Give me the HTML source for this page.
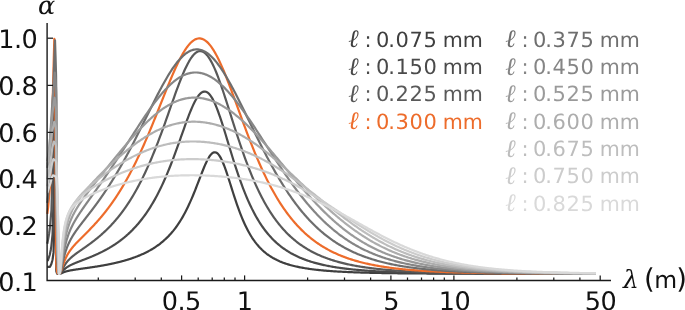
<!DOCTYPE html>
<html><head><meta charset="utf-8"><title>plot</title>
<style>
html,body{margin:0;padding:0;background:#fff;}
body{width:685px;height:310px;position:relative;overflow:hidden;text-rendering:geometricPrecision;font-family:"DejaVu Sans","Liberation Sans",sans-serif;color:#111;}
.yl{position:absolute;left:-22.75px;width:60px;height:40px;line-height:40px;text-align:right;font-size:25.5px;white-space:nowrap;letter-spacing:-0.5px;}
.xl{position:absolute;top:281.7px;width:80px;height:40px;line-height:40px;text-align:center;font-size:25.5px;white-space:nowrap;letter-spacing:-0.5px;}
.al{position:absolute;font-family:"DejaVu Serif","Liberation Serif",serif;font-style:italic;font-size:25.5px;line-height:40px;}
.lam{position:absolute;font-family:"DejaVu Serif","Liberation Serif",serif;font-style:italic;font-size:25px;line-height:40px;}
.unit .par{font-size:27.5px;}
.unit{position:absolute;font-size:23.5px;line-height:40px;white-space:nowrap;}
.lg{position:absolute;height:40px;line-height:40px;font-size:21px;white-space:nowrap;}
.lg span{position:absolute;top:0;}
.lg .dg{letter-spacing:0.6px;}
.lg .dg .pt{position:static;margin-left:-1.66px;}
.lg .ell{font-family:"Liberation Serif","DejaVu Serif",serif;font-style:italic;font-size:25px;}
.lg .mm{font-size:20.6px;}
</style></head><body>
<svg width="685" height="310" viewBox="0 0 685 310" style="position:absolute;left:0;top:0">
<g fill="none" stroke-width="2.2" stroke-linejoin="round" stroke-linecap="butt">
<path stroke="#3f3f3f" d="M47.30,266.88 L50.00,266.88 L51.35,264.07 L52.20,261.07 L52.61,259.26 L53.51,252.64 L54.59,218.90 L55.40,153.86 L55.67,177.22 L55.94,198.21 L56.07,218.90 L56.16,246.07 L56.25,258.93 L56.43,269.28 L56.57,271.75 L56.75,272.64 L57.02,273.14 L57.24,273.61 L57.65,273.75 L58.00,273.75 L58.40,273.75 L58.70,273.75 L58.90,273.80 L59.15,273.80 L59.40,273.80 L59.65,273.78 L59.90,273.75 L60.15,273.70 L60.40,273.64 L60.65,273.56 L60.90,273.47 L61.15,273.37 L61.40,273.26 L61.65,273.15 L61.90,273.03 L62.15,272.92 L62.40,272.81 L62.65,272.69 L62.90,272.58 L63.15,272.48 L63.40,272.37 L63.65,272.27 L63.90,272.17 L64.15,272.08 L64.40,271.99 L64.65,271.90 L64.90,271.81 L65.15,271.73 L65.40,271.65 L65.65,271.57 L65.90,271.50 L66.15,271.42 L66.40,271.35 L66.65,271.29 L66.90,271.22 L67.15,271.15 L67.40,271.09 L67.65,271.03 L67.90,270.97 L68.15,270.91 L68.40,270.86 L68.65,270.80 L68.90,270.75 L69.15,270.69 L69.40,270.64 L69.65,270.59 L69.90,270.54 L70.15,270.49 L70.40,270.44 L70.65,270.39 L70.90,270.35 L71.15,270.30 L71.40,270.26 L71.65,270.21 L71.90,270.17 L72.15,270.12 L72.40,270.08 L72.65,270.04 L72.90,270.00 L73.15,269.96 L73.40,269.92 L73.65,269.88 L73.90,269.84 L74.15,269.80 L74.40,269.76 L74.65,269.72 L74.90,269.68 L75.15,269.64 L75.40,269.60 L75.65,269.56 L75.90,269.53 L76.15,269.49 L76.40,269.45 L76.65,269.42 L76.90,269.38 L77.15,269.34 L77.40,269.31 L77.65,269.27 L77.90,269.23 L78.15,269.20 L78.40,269.16 L78.65,269.13 L78.90,269.09 L79.15,269.05 L79.40,269.02 L79.65,268.98 L79.90,268.95 L80.15,268.91 L80.40,268.88 L80.65,268.84 L80.90,268.81 L81.15,268.77 L81.40,268.74 L81.65,268.70 L81.90,268.67 L82.15,268.63 L82.40,268.60 L82.65,268.56 L82.90,268.53 L83.15,268.49 L83.40,268.46 L83.65,268.42 L83.90,268.39 L84.15,268.35 L84.40,268.32 L84.65,268.28 L84.90,268.25 L85.15,268.21 L85.40,268.18 L85.65,268.14 L85.90,268.11 L86.15,268.07 L86.40,268.04 L86.65,268.00 L86.90,267.97 L87.15,267.93 L87.40,267.90 L87.65,267.86 L87.90,267.82 L88.15,267.79 L88.40,267.75 L88.65,267.72 L88.90,267.68 L89.15,267.64 L89.40,267.61 L89.65,267.57 L89.90,267.54 L90.15,267.50 L90.40,267.46 L90.65,267.43 L90.90,267.39 L91.15,267.35 L91.40,267.31 L91.65,267.28 L91.90,267.24 L92.15,267.20 L92.40,267.16 L92.65,267.13 L92.90,267.09 L93.15,267.05 L93.40,267.01 L93.65,266.98 L93.90,266.94 L94.15,266.90 L94.40,266.86 L94.65,266.82 L94.90,266.78 L95.15,266.74 L95.40,266.70 L95.65,266.66 L95.90,266.62 L96.15,266.59 L96.40,266.55 L96.65,266.51 L96.90,266.47 L97.15,266.43 L97.40,266.38 L97.65,266.34 L97.90,266.30 L98.15,266.26 L98.40,266.22 L98.65,266.18 L98.90,266.14 L99.15,266.10 L99.40,266.05 L99.65,266.01 L99.90,265.97 L100.15,265.93 L100.40,265.89 L100.65,265.84 L100.90,265.80 L101.15,265.76 L101.40,265.71 L101.65,265.67 L101.90,265.63 L102.15,265.58 L102.40,265.54 L102.65,265.49 L102.90,265.45 L103.15,265.40 L103.40,265.36 L103.65,265.31 L103.90,265.27 L104.15,265.22 L104.40,265.18 L104.65,265.13 L104.90,265.09 L105.15,265.04 L105.40,264.99 L105.65,264.95 L105.90,264.90 L106.15,264.85 L106.40,264.80 L106.65,264.76 L106.90,264.71 L107.15,264.66 L107.40,264.61 L107.65,264.56 L107.90,264.51 L108.15,264.46 L108.40,264.41 L108.65,264.36 L108.90,264.31 L109.15,264.26 L109.40,264.21 L109.65,264.16 L109.90,264.11 L110.15,264.06 L110.40,264.01 L110.65,263.96 L110.90,263.90 L111.15,263.85 L111.40,263.80 L111.65,263.75 L111.90,263.69 L112.15,263.64 L112.40,263.58 L112.65,263.53 L112.90,263.48 L113.15,263.42 L113.40,263.37 L113.65,263.31 L113.90,263.26 L114.15,263.20 L114.40,263.14 L114.65,263.09 L114.90,263.03 L115.15,262.97 L115.40,262.92 L115.65,262.86 L115.90,262.80 L116.15,262.74 L116.40,262.68 L116.65,262.62 L116.90,262.56 L117.15,262.50 L117.40,262.44 L117.65,262.38 L117.90,262.32 L118.15,262.26 L118.40,262.20 L118.65,262.14 L118.90,262.08 L119.15,262.01 L119.40,261.95 L119.65,261.89 L119.90,261.82 L120.15,261.76 L120.40,261.70 L120.65,261.63 L120.90,261.57 L121.15,261.50 L121.40,261.44 L121.65,261.37 L121.90,261.30 L122.15,261.24 L122.40,261.17 L122.65,261.10 L122.90,261.03 L123.15,260.96 L123.40,260.90 L123.65,260.83 L123.90,260.76 L124.15,260.69 L124.40,260.62 L124.65,260.54 L124.90,260.47 L125.15,260.40 L125.40,260.33 L125.65,260.26 L125.90,260.18 L126.15,260.11 L126.40,260.04 L126.65,259.96 L126.90,259.89 L127.15,259.81 L127.40,259.74 L127.65,259.66 L127.90,259.58 L128.15,259.50 L128.40,259.43 L128.65,259.35 L128.90,259.27 L129.15,259.19 L129.40,259.11 L129.65,259.03 L129.90,258.95 L130.00,258.92 L131.00,258.59 L132.00,258.25 L133.00,257.91 L134.00,257.55 L135.00,257.19 L136.00,256.82 L137.00,256.43 L138.00,256.04 L139.00,255.63 L140.00,255.22 L141.00,254.79 L142.00,254.35 L143.00,253.90 L144.00,253.44 L145.00,252.96 L146.00,252.47 L147.00,251.96 L148.00,251.44 L149.00,250.90 L150.00,250.35 L151.00,249.78 L152.00,249.19 L153.00,248.58 L154.00,247.96 L155.00,247.31 L156.00,246.65 L157.00,245.96 L158.00,245.25 L159.00,244.52 L160.00,243.76 L161.00,242.97 L162.00,242.16 L163.00,241.32 L164.00,240.45 L165.00,239.55 L166.00,238.62 L167.00,237.66 L168.00,236.66 L169.00,235.62 L170.00,234.55 L171.00,233.44 L172.00,232.28 L173.00,231.09 L174.00,229.84 L175.00,228.55 L176.00,227.22 L177.00,225.83 L178.00,224.39 L179.00,222.89 L180.00,221.34 L181.00,219.73 L182.00,218.06 L183.00,216.33 L184.00,214.54 L185.00,212.68 L186.00,210.76 L187.00,208.77 L188.00,206.71 L189.00,204.59 L190.00,202.40 L191.00,200.15 L192.00,197.83 L193.00,195.46 L194.00,193.02 L195.00,190.54 L196.00,188.02 L197.00,185.45 L198.00,182.87 L199.00,180.26 L200.00,177.65 L201.00,175.06 L202.00,172.50 L203.00,169.98 L204.00,167.54 L205.00,165.19 L206.00,162.95 L207.00,160.86 L208.00,158.94 L209.00,157.21 L210.00,155.70 L211.00,154.44 L212.00,153.44 L213.00,152.73 L214.00,152.33 L215.00,152.24 L216.00,152.47 L217.00,153.03 L218.00,153.91 L219.00,155.11 L220.00,156.61 L221.00,158.40 L222.00,160.44 L223.00,162.73 L224.00,165.23 L225.00,167.90 L226.00,170.74 L227.00,173.69 L228.00,176.74 L229.00,179.86 L230.00,183.02 L231.00,186.20 L232.00,189.37 L233.00,192.53 L234.00,195.64 L235.00,198.70 L236.00,201.70 L237.00,204.62 L238.00,207.46 L239.00,210.21 L240.00,212.87 L241.00,215.44 L242.00,217.91 L243.00,220.28 L244.00,222.56 L245.00,224.74 L246.00,226.83 L247.00,228.82 L248.00,230.73 L249.00,232.55 L250.00,234.29 L251.00,235.95 L252.00,237.53 L253.00,239.03 L254.00,240.47 L255.00,241.84 L256.00,243.14 L257.00,244.38 L258.00,245.56 L259.00,246.69 L260.00,247.77 L261.00,248.79 L262.00,249.77 L263.00,250.70 L264.00,251.59 L265.00,252.44 L266.00,253.24 L267.00,254.02 L268.00,254.75 L269.00,255.46 L270.00,256.13 L271.00,256.77 L272.00,257.39 L273.00,257.98 L274.00,258.54 L275.00,259.08 L276.00,259.59 L277.00,260.09 L278.00,260.56 L279.00,261.01 L280.00,261.45 L281.00,261.86 L282.00,262.26 L283.00,262.65 L284.00,263.02 L285.00,263.37 L286.00,263.71 L287.00,264.04 L288.00,264.35 L289.00,264.65 L290.00,264.94 L291.00,265.22 L292.00,265.49 L293.00,265.75 L294.00,266.00 L295.00,266.24 L296.00,266.47 L297.00,266.69 L298.00,266.90 L299.00,267.11 L300.00,267.31 L301.00,267.50 L302.00,267.69 L303.00,267.87 L304.00,268.04 L305.00,268.21 L306.00,268.37 L307.00,268.53 L308.00,268.68 L309.00,268.83 L310.00,268.97 L311.00,269.10 L312.00,269.24 L313.00,269.36 L314.00,269.49 L315.00,269.61 L316.00,269.72 L317.00,269.83 L318.00,269.94 L319.00,270.05 L320.00,270.15 L321.00,270.25 L322.00,270.34 L323.00,270.44 L324.00,270.53 L325.00,270.62 L326.00,270.70 L327.00,270.78 L328.00,270.86 L329.00,270.94 L330.00,271.01 L331.00,271.09 L332.00,271.16 L333.00,271.23 L334.00,271.29 L335.00,271.36 L336.00,271.42 L337.00,271.48 L338.00,271.54 L339.00,271.60 L340.00,271.65 L341.00,271.71 L342.00,271.76 L343.00,271.81 L344.00,271.86 L345.00,271.91 L346.00,271.96 L347.00,272.01 L348.00,272.05 L349.00,272.09 L350.00,272.14 L351.00,272.18 L352.00,272.22 L353.00,272.26 L354.00,272.29 L355.00,272.33 L356.00,272.37 L357.00,272.40 L358.00,272.44 L359.00,272.47 L360.00,272.50 L361.00,272.53 L362.00,272.56 L363.00,272.59 L364.00,272.62 L365.00,272.65 L366.00,272.68 L367.00,272.71 L368.00,272.73 L369.00,272.76 L370.00,272.78 L371.00,272.81 L372.00,272.83 L373.00,272.85 L374.00,272.88 L375.00,272.90 L376.00,272.92 L377.00,272.94 L378.00,272.96 L379.00,272.98 L380.00,273.00 L381.00,273.02 L382.00,273.04 L383.00,273.05 L384.00,273.07 L385.00,273.09 L386.00,273.11 L387.00,273.12 L388.00,273.14 L389.00,273.15 L390.00,273.17 L391.00,273.18 L392.00,273.20 L393.00,273.21 L394.00,273.22 L395.00,273.24 L396.00,273.25 L397.00,273.26 L398.00,273.28 L399.00,273.29 L400.00,273.30 L401.00,273.31 L402.00,273.32 L403.00,273.33 L404.00,273.34 L405.00,273.35 L406.00,273.36 L407.00,273.37 L408.00,273.38 L409.00,273.39 L410.00,273.40 L411.00,273.41 L412.00,273.42 L413.00,273.43 L414.00,273.44 L415.00,273.45 L416.00,273.45 L417.00,273.46 L418.00,273.47 L419.00,273.48 L420.00,273.48 L421.00,273.49 L422.00,273.50 L423.00,273.51 L424.00,273.51 L425.00,273.52 L426.00,273.52 L427.00,273.53 L428.00,273.54 L429.00,273.54 L430.00,273.55 L431.00,273.55 L432.00,273.56 L433.00,273.57 L434.00,273.57 L435.00,273.58 L436.00,273.58 L437.00,273.59 L438.00,273.59 L439.00,273.59 L440.00,273.60 L441.00,273.60 L442.00,273.61 L443.00,273.61 L444.00,273.62 L445.00,273.62 L446.00,273.62 L447.00,273.63 L448.00,273.63 L449.00,273.64 L450.00,273.64 L451.00,273.64 L452.00,273.65 L453.00,273.65 L454.00,273.65 L455.00,273.66 L456.00,273.66 L457.00,273.66 L458.00,273.67 L459.00,273.67 L460.00,273.67 L461.00,273.67 L462.00,273.68 L463.00,273.68 L464.00,273.68 L465.00,273.69 L466.00,273.69 L467.00,273.69 L468.00,273.69 L469.00,273.70 L470.00,273.70 L471.00,273.70 L472.00,273.70 L473.00,273.70 L474.00,273.71 L475.00,273.71 L476.00,273.71 L477.00,273.71 L478.00,273.71 L479.00,273.72 L480.00,273.72 L481.00,273.72 L482.00,273.72 L483.00,273.72 L484.00,273.72 L485.00,273.73 L486.00,273.73 L487.00,273.73 L488.00,273.73 L489.00,273.73 L490.00,273.73 L491.00,273.74 L492.00,273.74 L493.00,273.74 L494.00,273.74 L495.00,273.74 L496.00,273.74 L497.00,273.74 L498.00,273.74 L499.00,273.75 L500.00,273.75 L501.00,273.75 L502.00,273.75 L503.00,273.75 L504.00,273.75 L505.00,273.75 L506.00,273.75 L507.00,273.75 L508.00,273.76 L509.00,273.76 L510.00,273.76 L511.00,273.76 L512.00,273.76 L513.00,273.76 L514.00,273.76 L515.00,273.76 L516.00,273.76 L517.00,273.76 L518.00,273.76 L519.00,273.77 L520.00,273.77 L521.00,273.77 L522.00,273.77 L523.00,273.77 L524.00,273.77 L525.00,273.77 L526.00,273.77 L527.00,273.77 L528.00,273.77 L529.00,273.77 L530.00,273.77 L531.00,273.77 L532.00,273.77 L533.00,273.77 L534.00,273.78 L535.00,273.78 L536.00,273.78 L537.00,273.78 L538.00,273.78 L539.00,273.78 L540.00,273.78 L541.00,273.78 L542.00,273.78 L543.00,273.78 L544.00,273.78 L545.00,273.78 L546.00,273.78 L547.00,273.78 L548.00,273.78 L549.00,273.78 L550.00,273.78 L551.00,273.78 L552.00,273.78 L553.00,273.78 L554.00,273.78 L555.00,273.78 L556.00,273.78 L557.00,273.78 L558.00,273.79 L559.00,273.79 L560.00,273.79 L561.00,273.79 L562.00,273.79 L563.00,273.79 L564.00,273.79 L565.00,273.79 L566.00,273.79 L567.00,273.79 L568.00,273.79 L569.00,273.79 L570.00,273.79 L571.00,273.79 L572.00,273.79 L573.00,273.79 L574.00,273.79 L575.00,273.79 L576.00,273.79 L577.00,273.79 L578.00,273.79 L579.00,273.79 L580.00,273.79 L581.00,273.79 L582.00,273.79 L583.00,273.79 L584.00,273.79 L585.00,273.79 L586.00,273.79 L587.00,273.79 L588.00,273.79 L589.00,273.79 L590.00,273.79 L591.00,273.79 L592.00,273.79 L593.00,273.79 L594.00,273.79 L595.00,273.79 L596.00,273.79"/>
<path stroke="#4a4a4a" d="M47.30,260.33 L47.90,260.33 L49.70,255.01 L50.84,249.41 L51.38,246.06 L52.58,234.11 L54.02,178.83 L55.10,92.97 L55.43,121.37 L55.76,148.99 L55.93,178.83 L56.04,222.62 L56.15,245.46 L56.37,264.94 L56.53,269.75 L56.75,271.50 L57.08,272.50 L57.36,273.43 L57.85,273.71 L58.00,273.71 L58.40,273.71 L58.70,273.71 L58.90,273.80 L59.15,273.80 L59.40,273.79 L59.65,273.76 L59.90,273.69 L60.15,273.57 L60.40,273.42 L60.65,273.23 L60.90,273.01 L61.15,272.77 L61.40,272.51 L61.65,272.23 L61.90,271.95 L62.15,271.67 L62.40,271.38 L62.65,271.10 L62.90,270.83 L63.15,270.56 L63.40,270.29 L63.65,270.03 L63.90,269.78 L64.15,269.54 L64.40,269.30 L64.65,269.08 L64.90,268.85 L65.15,268.64 L65.40,268.43 L65.65,268.23 L65.90,268.03 L66.15,267.84 L66.40,267.66 L66.65,267.48 L66.90,267.30 L67.15,267.13 L67.40,266.97 L67.65,266.81 L67.90,266.65 L68.15,266.49 L68.40,266.34 L68.65,266.20 L68.90,266.05 L69.15,265.91 L69.40,265.77 L69.65,265.64 L69.90,265.50 L70.15,265.37 L70.40,265.24 L70.65,265.12 L70.90,264.99 L71.15,264.87 L71.40,264.75 L71.65,264.63 L71.90,264.51 L72.15,264.39 L72.40,264.28 L72.65,264.17 L72.90,264.05 L73.15,263.94 L73.40,263.83 L73.65,263.72 L73.90,263.61 L74.15,263.51 L74.40,263.40 L74.65,263.29 L74.90,263.19 L75.15,263.09 L75.40,262.98 L75.65,262.88 L75.90,262.78 L76.15,262.68 L76.40,262.57 L76.65,262.47 L76.90,262.37 L77.15,262.27 L77.40,262.18 L77.65,262.08 L77.90,261.98 L78.15,261.88 L78.40,261.78 L78.65,261.68 L78.90,261.59 L79.15,261.49 L79.40,261.39 L79.65,261.30 L79.90,261.20 L80.15,261.10 L80.40,261.01 L80.65,260.91 L80.90,260.81 L81.15,260.72 L81.40,260.62 L81.65,260.52 L81.90,260.43 L82.15,260.33 L82.40,260.24 L82.65,260.14 L82.90,260.04 L83.15,259.95 L83.40,259.85 L83.65,259.75 L83.90,259.66 L84.15,259.56 L84.40,259.46 L84.65,259.37 L84.90,259.27 L85.15,259.17 L85.40,259.07 L85.65,258.98 L85.90,258.88 L86.15,258.78 L86.40,258.68 L86.65,258.58 L86.90,258.49 L87.15,258.39 L87.40,258.29 L87.65,258.19 L87.90,258.09 L88.15,257.99 L88.40,257.89 L88.65,257.79 L88.90,257.69 L89.15,257.59 L89.40,257.48 L89.65,257.38 L89.90,257.28 L90.15,257.18 L90.40,257.08 L90.65,256.97 L90.90,256.87 L91.15,256.77 L91.40,256.66 L91.65,256.56 L91.90,256.45 L92.15,256.35 L92.40,256.24 L92.65,256.14 L92.90,256.03 L93.15,255.92 L93.40,255.82 L93.65,255.71 L93.90,255.60 L94.15,255.49 L94.40,255.38 L94.65,255.27 L94.90,255.16 L95.15,255.05 L95.40,254.94 L95.65,254.83 L95.90,254.72 L96.15,254.61 L96.40,254.49 L96.65,254.38 L96.90,254.27 L97.15,254.15 L97.40,254.04 L97.65,253.92 L97.90,253.81 L98.15,253.69 L98.40,253.58 L98.65,253.46 L98.90,253.34 L99.15,253.22 L99.40,253.10 L99.65,252.98 L99.90,252.86 L100.15,252.74 L100.40,252.62 L100.65,252.50 L100.90,252.38 L101.15,252.25 L101.40,252.13 L101.65,252.01 L101.90,251.88 L102.15,251.76 L102.40,251.63 L102.65,251.50 L102.90,251.38 L103.15,251.25 L103.40,251.12 L103.65,250.99 L103.90,250.86 L104.15,250.73 L104.40,250.60 L104.65,250.46 L104.90,250.33 L105.15,250.20 L105.40,250.06 L105.65,249.93 L105.90,249.79 L106.15,249.66 L106.40,249.52 L106.65,249.38 L106.90,249.25 L107.15,249.11 L107.40,248.97 L107.65,248.83 L107.90,248.68 L108.15,248.54 L108.40,248.40 L108.65,248.26 L108.90,248.11 L109.15,247.97 L109.40,247.82 L109.65,247.67 L109.90,247.52 L110.15,247.38 L110.40,247.23 L110.65,247.08 L110.90,246.93 L111.15,246.77 L111.40,246.62 L111.65,246.47 L111.90,246.31 L112.15,246.16 L112.40,246.00 L112.65,245.85 L112.90,245.69 L113.15,245.53 L113.40,245.37 L113.65,245.21 L113.90,245.05 L114.15,244.88 L114.40,244.72 L114.65,244.56 L114.90,244.39 L115.15,244.23 L115.40,244.06 L115.65,243.89 L115.90,243.72 L116.15,243.55 L116.40,243.38 L116.65,243.21 L116.90,243.04 L117.15,242.86 L117.40,242.69 L117.65,242.51 L117.90,242.33 L118.15,242.15 L118.40,241.98 L118.65,241.80 L118.90,241.61 L119.15,241.43 L119.40,241.25 L119.65,241.06 L119.90,240.88 L120.15,240.69 L120.40,240.50 L120.65,240.31 L120.90,240.12 L121.15,239.93 L121.40,239.74 L121.65,239.55 L121.90,239.35 L122.15,239.16 L122.40,238.96 L122.65,238.76 L122.90,238.56 L123.15,238.36 L123.40,238.16 L123.65,237.96 L123.90,237.75 L124.15,237.55 L124.40,237.34 L124.65,237.13 L124.90,236.92 L125.15,236.71 L125.40,236.50 L125.65,236.29 L125.90,236.07 L126.15,235.86 L126.40,235.64 L126.65,235.42 L126.90,235.20 L127.15,234.98 L127.40,234.76 L127.65,234.53 L127.90,234.31 L128.15,234.08 L128.40,233.85 L128.65,233.62 L128.90,233.39 L129.15,233.16 L129.40,232.93 L129.65,232.69 L129.90,232.45 L130.00,232.36 L131.00,231.40 L132.00,230.41 L133.00,229.39 L134.00,228.35 L135.00,227.29 L136.00,226.19 L137.00,225.07 L138.00,223.92 L139.00,222.74 L140.00,221.53 L141.00,220.29 L142.00,219.01 L143.00,217.70 L144.00,216.36 L145.00,214.99 L146.00,213.57 L147.00,212.12 L148.00,210.64 L149.00,209.11 L150.00,207.54 L151.00,205.94 L152.00,204.29 L153.00,202.60 L154.00,200.87 L155.00,199.09 L156.00,197.27 L157.00,195.40 L158.00,193.49 L159.00,191.53 L160.00,189.52 L161.00,187.46 L162.00,185.35 L163.00,183.20 L164.00,181.00 L165.00,178.75 L166.00,176.44 L167.00,174.10 L168.00,171.70 L169.00,169.25 L170.00,166.76 L171.00,164.23 L172.00,161.65 L173.00,159.03 L174.00,156.37 L175.00,153.67 L176.00,150.95 L177.00,148.19 L178.00,145.41 L179.00,142.61 L180.00,139.79 L181.00,136.96 L182.00,134.14 L183.00,131.31 L184.00,128.51 L185.00,125.72 L186.00,122.96 L187.00,120.24 L188.00,117.58 L189.00,114.97 L190.00,112.44 L191.00,109.99 L192.00,107.65 L193.00,105.41 L194.00,103.29 L195.00,101.32 L196.00,99.49 L197.00,97.82 L198.00,96.32 L199.00,95.01 L200.00,93.90 L201.00,92.99 L202.00,92.29 L203.00,91.81 L204.00,91.56 L205.00,91.54 L206.00,91.76 L207.00,92.21 L208.00,92.89 L209.00,93.80 L210.00,94.94 L211.00,96.31 L212.00,97.88 L213.00,99.66 L214.00,101.64 L215.00,103.80 L216.00,106.13 L217.00,108.62 L218.00,111.25 L219.00,114.01 L220.00,116.89 L221.00,119.87 L222.00,122.94 L223.00,126.08 L224.00,129.27 L225.00,132.52 L226.00,135.80 L227.00,139.10 L228.00,142.40 L229.00,145.71 L230.00,149.01 L231.00,152.30 L232.00,155.55 L233.00,158.77 L234.00,161.96 L235.00,165.09 L236.00,168.18 L237.00,171.21 L238.00,174.19 L239.00,177.10 L240.00,179.95 L241.00,182.73 L242.00,185.45 L243.00,188.10 L244.00,190.68 L245.00,193.19 L246.00,195.64 L247.00,198.01 L248.00,200.32 L249.00,202.56 L250.00,204.73 L251.00,206.84 L252.00,208.88 L253.00,210.86 L254.00,212.78 L255.00,214.63 L256.00,216.43 L257.00,218.17 L258.00,219.86 L259.00,221.49 L260.00,223.07 L261.00,224.59 L262.00,226.07 L263.00,227.50 L264.00,228.88 L265.00,230.22 L266.00,231.51 L267.00,232.76 L268.00,233.97 L269.00,235.14 L270.00,236.27 L271.00,237.36 L272.00,238.42 L273.00,239.45 L274.00,240.44 L275.00,241.40 L276.00,242.33 L277.00,243.22 L278.00,244.09 L279.00,244.94 L280.00,245.75 L281.00,246.54 L282.00,247.30 L283.00,248.04 L284.00,248.76 L285.00,249.45 L286.00,250.12 L287.00,250.78 L288.00,251.41 L289.00,252.02 L290.00,252.61 L291.00,253.19 L292.00,253.74 L293.00,254.28 L294.00,254.81 L295.00,255.31 L296.00,255.81 L297.00,256.29 L298.00,256.75 L299.00,257.20 L300.00,257.64 L301.00,258.06 L302.00,258.47 L303.00,258.87 L304.00,259.26 L305.00,259.64 L306.00,260.00 L307.00,260.36 L308.00,260.70 L309.00,261.04 L310.00,261.36 L311.00,261.68 L312.00,261.99 L313.00,262.29 L314.00,262.58 L315.00,262.86 L316.00,263.14 L317.00,263.40 L318.00,263.66 L319.00,263.92 L320.00,264.16 L321.00,264.40 L322.00,264.63 L323.00,264.86 L324.00,265.08 L325.00,265.30 L326.00,265.50 L327.00,265.71 L328.00,265.90 L329.00,266.10 L330.00,266.28 L331.00,266.47 L332.00,266.65 L333.00,266.82 L334.00,266.99 L335.00,267.15 L336.00,267.31 L337.00,267.47 L338.00,267.62 L339.00,267.77 L340.00,267.91 L341.00,268.05 L342.00,268.19 L343.00,268.32 L344.00,268.45 L345.00,268.58 L346.00,268.70 L347.00,268.82 L348.00,268.94 L349.00,269.05 L350.00,269.16 L351.00,269.27 L352.00,269.38 L353.00,269.48 L354.00,269.58 L355.00,269.68 L356.00,269.78 L357.00,269.87 L358.00,269.96 L359.00,270.05 L360.00,270.14 L361.00,270.22 L362.00,270.31 L363.00,270.39 L364.00,270.47 L365.00,270.54 L366.00,270.62 L367.00,270.69 L368.00,270.76 L369.00,270.83 L370.00,270.90 L371.00,270.97 L372.00,271.03 L373.00,271.10 L374.00,271.16 L375.00,271.22 L376.00,271.28 L377.00,271.33 L378.00,271.39 L379.00,271.44 L380.00,271.50 L381.00,271.55 L382.00,271.60 L383.00,271.65 L384.00,271.70 L385.00,271.75 L386.00,271.79 L387.00,271.84 L388.00,271.88 L389.00,271.93 L390.00,271.97 L391.00,272.01 L392.00,272.05 L393.00,272.09 L394.00,272.13 L395.00,272.17 L396.00,272.20 L397.00,272.24 L398.00,272.27 L399.00,272.31 L400.00,272.34 L401.00,272.37 L402.00,272.41 L403.00,272.44 L404.00,272.47 L405.00,272.50 L406.00,272.53 L407.00,272.55 L408.00,272.58 L409.00,272.61 L410.00,272.64 L411.00,272.66 L412.00,272.69 L413.00,272.71 L414.00,272.74 L415.00,272.76 L416.00,272.78 L417.00,272.80 L418.00,272.83 L419.00,272.85 L420.00,272.87 L421.00,272.89 L422.00,272.91 L423.00,272.93 L424.00,272.95 L425.00,272.97 L426.00,272.99 L427.00,273.00 L428.00,273.02 L429.00,273.04 L430.00,273.06 L431.00,273.07 L432.00,273.09 L433.00,273.10 L434.00,273.12 L435.00,273.13 L436.00,273.15 L437.00,273.16 L438.00,273.18 L439.00,273.19 L440.00,273.20 L441.00,273.22 L442.00,273.23 L443.00,273.24 L444.00,273.25 L445.00,273.27 L446.00,273.28 L447.00,273.29 L448.00,273.30 L449.00,273.31 L450.00,273.32 L451.00,273.33 L452.00,273.34 L453.00,273.35 L454.00,273.36 L455.00,273.37 L456.00,273.38 L457.00,273.39 L458.00,273.40 L459.00,273.41 L460.00,273.42 L461.00,273.43 L462.00,273.43 L463.00,273.44 L464.00,273.45 L465.00,273.46 L466.00,273.46 L467.00,273.47 L468.00,273.48 L469.00,273.49 L470.00,273.49 L471.00,273.50 L472.00,273.51 L473.00,273.51 L474.00,273.52 L475.00,273.53 L476.00,273.53 L477.00,273.54 L478.00,273.54 L479.00,273.55 L480.00,273.55 L481.00,273.56 L482.00,273.56 L483.00,273.57 L484.00,273.57 L485.00,273.58 L486.00,273.58 L487.00,273.59 L488.00,273.59 L489.00,273.60 L490.00,273.60 L491.00,273.61 L492.00,273.61 L493.00,273.61 L494.00,273.62 L495.00,273.62 L496.00,273.63 L497.00,273.63 L498.00,273.63 L499.00,273.64 L500.00,273.64 L501.00,273.64 L502.00,273.65 L503.00,273.65 L504.00,273.65 L505.00,273.66 L506.00,273.66 L507.00,273.66 L508.00,273.67 L509.00,273.67 L510.00,273.67 L511.00,273.68 L512.00,273.68 L513.00,273.68 L514.00,273.68 L515.00,273.69 L516.00,273.69 L517.00,273.69 L518.00,273.69 L519.00,273.70 L520.00,273.70 L521.00,273.70 L522.00,273.70 L523.00,273.70 L524.00,273.71 L525.00,273.71 L526.00,273.71 L527.00,273.71 L528.00,273.71 L529.00,273.72 L530.00,273.72 L531.00,273.72 L532.00,273.72 L533.00,273.72 L534.00,273.72 L535.00,273.73 L536.00,273.73 L537.00,273.73 L538.00,273.73 L539.00,273.73 L540.00,273.73 L541.00,273.74 L542.00,273.74 L543.00,273.74 L544.00,273.74 L545.00,273.74 L546.00,273.74 L547.00,273.74 L548.00,273.74 L549.00,273.75 L550.00,273.75 L551.00,273.75 L552.00,273.75 L553.00,273.75 L554.00,273.75 L555.00,273.75 L556.00,273.75 L557.00,273.75 L558.00,273.76 L559.00,273.76 L560.00,273.76 L561.00,273.76 L562.00,273.76 L563.00,273.76 L564.00,273.76 L565.00,273.76 L566.00,273.76 L567.00,273.76 L568.00,273.76 L569.00,273.76 L570.00,273.77 L571.00,273.77 L572.00,273.77 L573.00,273.77 L574.00,273.77 L575.00,273.77 L576.00,273.77 L577.00,273.77 L578.00,273.77 L579.00,273.77 L580.00,273.77 L581.00,273.77 L582.00,273.77 L583.00,273.77 L584.00,273.77 L585.00,273.78 L586.00,273.78 L587.00,273.78 L588.00,273.78 L589.00,273.78 L590.00,273.78 L591.00,273.78 L592.00,273.78 L593.00,273.78 L594.00,273.78 L595.00,273.78 L596.00,273.78"/>
<path stroke="#595959" d="M47.30,243.63 L47.60,242.32 L49.12,233.45 L49.84,228.23 L51.44,210.31 L53.36,138.14 L54.80,52.09 L55.16,77.88 L55.52,105.26 L55.70,138.14 L55.82,193.91 L55.94,227.32 L56.18,258.62 L56.36,266.79 L56.60,269.80 L56.96,271.53 L57.26,273.15 L57.80,273.64 L58.00,273.64 L58.40,273.64 L58.70,273.64 L58.90,273.80 L59.15,273.80 L59.40,273.78 L59.65,273.72 L59.90,273.60 L60.15,273.40 L60.40,273.12 L60.65,272.78 L60.90,272.38 L61.15,271.94 L61.40,271.47 L61.65,270.97 L61.90,270.46 L62.15,269.95 L62.40,269.43 L62.65,268.92 L62.90,268.42 L63.15,267.92 L63.40,267.44 L63.65,266.97 L63.90,266.51 L64.15,266.07 L64.40,265.64 L64.65,265.22 L64.90,264.82 L65.15,264.42 L65.40,264.04 L65.65,263.68 L65.90,263.32 L66.15,262.97 L66.40,262.63 L66.65,262.31 L66.90,261.99 L67.15,261.68 L67.40,261.37 L67.65,261.08 L67.90,260.79 L68.15,260.51 L68.40,260.24 L68.65,259.97 L68.90,259.70 L69.15,259.45 L69.40,259.19 L69.65,258.95 L69.90,258.70 L70.15,258.47 L70.40,258.23 L70.65,258.00 L70.90,257.77 L71.15,257.55 L71.40,257.33 L71.65,257.11 L71.90,256.89 L72.15,256.68 L72.40,256.47 L72.65,256.27 L72.90,256.06 L73.15,255.86 L73.40,255.66 L73.65,255.46 L73.90,255.26 L74.15,255.07 L74.40,254.87 L74.65,254.68 L74.90,254.49 L75.15,254.30 L75.40,254.11 L75.65,253.93 L75.90,253.74 L76.15,253.56 L76.40,253.37 L76.65,253.19 L76.90,253.01 L77.15,252.83 L77.40,252.65 L77.65,252.47 L77.90,252.29 L78.15,252.11 L78.40,251.93 L78.65,251.76 L78.90,251.58 L79.15,251.40 L79.40,251.23 L79.65,251.05 L79.90,250.87 L80.15,250.70 L80.40,250.52 L80.65,250.35 L80.90,250.18 L81.15,250.00 L81.40,249.83 L81.65,249.65 L81.90,249.48 L82.15,249.30 L82.40,249.13 L82.65,248.96 L82.90,248.78 L83.15,248.61 L83.40,248.43 L83.65,248.26 L83.90,248.08 L84.15,247.91 L84.40,247.73 L84.65,247.56 L84.90,247.38 L85.15,247.21 L85.40,247.03 L85.65,246.85 L85.90,246.68 L86.15,246.50 L86.40,246.32 L86.65,246.15 L86.90,245.97 L87.15,245.79 L87.40,245.61 L87.65,245.43 L87.90,245.25 L88.15,245.07 L88.40,244.89 L88.65,244.71 L88.90,244.53 L89.15,244.35 L89.40,244.17 L89.65,243.98 L89.90,243.80 L90.15,243.62 L90.40,243.43 L90.65,243.25 L90.90,243.06 L91.15,242.87 L91.40,242.69 L91.65,242.50 L91.90,242.31 L92.15,242.12 L92.40,241.93 L92.65,241.74 L92.90,241.55 L93.15,241.36 L93.40,241.17 L93.65,240.97 L93.90,240.78 L94.15,240.59 L94.40,240.39 L94.65,240.20 L94.90,240.00 L95.15,239.80 L95.40,239.60 L95.65,239.40 L95.90,239.20 L96.15,239.00 L96.40,238.80 L96.65,238.60 L96.90,238.40 L97.15,238.19 L97.40,237.99 L97.65,237.78 L97.90,237.58 L98.15,237.37 L98.40,237.16 L98.65,236.95 L98.90,236.74 L99.15,236.53 L99.40,236.32 L99.65,236.11 L99.90,235.89 L100.15,235.68 L100.40,235.46 L100.65,235.24 L100.90,235.03 L101.15,234.81 L101.40,234.59 L101.65,234.37 L101.90,234.15 L102.15,233.92 L102.40,233.70 L102.65,233.47 L102.90,233.25 L103.15,233.02 L103.40,232.79 L103.65,232.56 L103.90,232.33 L104.15,232.10 L104.40,231.87 L104.65,231.64 L104.90,231.40 L105.15,231.17 L105.40,230.93 L105.65,230.69 L105.90,230.45 L106.15,230.21 L106.40,229.97 L106.65,229.73 L106.90,229.49 L107.15,229.24 L107.40,228.99 L107.65,228.75 L107.90,228.50 L108.15,228.25 L108.40,228.00 L108.65,227.74 L108.90,227.49 L109.15,227.24 L109.40,226.98 L109.65,226.72 L109.90,226.46 L110.15,226.20 L110.40,225.94 L110.65,225.68 L110.90,225.41 L111.15,225.15 L111.40,224.88 L111.65,224.61 L111.90,224.34 L112.15,224.07 L112.40,223.80 L112.65,223.53 L112.90,223.25 L113.15,222.98 L113.40,222.70 L113.65,222.42 L113.90,222.14 L114.15,221.86 L114.40,221.57 L114.65,221.29 L114.90,221.00 L115.15,220.71 L115.40,220.42 L115.65,220.13 L115.90,219.84 L116.15,219.55 L116.40,219.25 L116.65,218.95 L116.90,218.65 L117.15,218.35 L117.40,218.05 L117.65,217.75 L117.90,217.44 L118.15,217.14 L118.40,216.83 L118.65,216.52 L118.90,216.21 L119.15,215.90 L119.40,215.58 L119.65,215.26 L119.90,214.95 L120.15,214.63 L120.40,214.31 L120.65,213.98 L120.90,213.66 L121.15,213.33 L121.40,213.00 L121.65,212.67 L121.90,212.34 L122.15,212.01 L122.40,211.67 L122.65,211.34 L122.90,211.00 L123.15,210.66 L123.40,210.31 L123.65,209.97 L123.90,209.62 L124.15,209.28 L124.40,208.93 L124.65,208.58 L124.90,208.22 L125.15,207.87 L125.40,207.51 L125.65,207.15 L125.90,206.79 L126.15,206.43 L126.40,206.06 L126.65,205.70 L126.90,205.33 L127.15,204.96 L127.40,204.59 L127.65,204.21 L127.90,203.84 L128.15,203.46 L128.40,203.08 L128.65,202.70 L128.90,202.31 L129.15,201.93 L129.40,201.54 L129.65,201.15 L129.90,200.76 L130.00,200.60 L131.00,199.01 L132.00,197.38 L133.00,195.72 L134.00,194.02 L135.00,192.29 L136.00,190.53 L137.00,188.73 L138.00,186.89 L139.00,185.01 L140.00,183.10 L141.00,181.15 L142.00,179.16 L143.00,177.13 L144.00,175.06 L145.00,172.95 L146.00,170.81 L147.00,168.62 L148.00,166.40 L149.00,164.13 L150.00,161.83 L151.00,159.48 L152.00,157.10 L153.00,154.68 L154.00,152.22 L155.00,149.73 L156.00,147.20 L157.00,144.63 L158.00,142.03 L159.00,139.40 L160.00,136.73 L161.00,134.04 L162.00,131.32 L163.00,128.57 L164.00,125.80 L165.00,123.01 L166.00,120.20 L167.00,117.38 L168.00,114.55 L169.00,111.70 L170.00,108.86 L171.00,106.01 L172.00,103.18 L173.00,100.35 L174.00,97.53 L175.00,94.74 L176.00,91.97 L177.00,89.24 L178.00,86.54 L179.00,83.89 L180.00,81.29 L181.00,78.75 L182.00,76.28 L183.00,73.88 L184.00,71.56 L185.00,69.32 L186.00,67.19 L187.00,65.15 L188.00,63.23 L189.00,61.42 L190.00,59.74 L191.00,58.19 L192.00,56.78 L193.00,55.51 L194.00,54.39 L195.00,53.43 L196.00,52.63 L197.00,51.99 L198.00,51.52 L199.00,51.23 L200.00,51.10 L201.00,51.16 L202.00,51.39 L203.00,51.79 L204.00,52.37 L205.00,53.12 L206.00,54.05 L207.00,55.15 L208.00,56.41 L209.00,57.83 L210.00,59.40 L211.00,61.13 L212.00,63.00 L213.00,65.01 L214.00,67.15 L215.00,69.41 L216.00,71.79 L217.00,74.27 L218.00,76.86 L219.00,79.53 L220.00,82.29 L221.00,85.13 L222.00,88.03 L223.00,90.99 L224.00,94.00 L225.00,97.06 L226.00,100.15 L227.00,103.27 L228.00,106.41 L229.00,109.57 L230.00,112.73 L231.00,115.90 L232.00,119.07 L233.00,122.22 L234.00,125.37 L235.00,128.50 L236.00,131.60 L237.00,134.68 L238.00,137.73 L239.00,140.75 L240.00,143.74 L241.00,146.68 L242.00,149.59 L243.00,152.45 L244.00,155.27 L245.00,158.05 L246.00,160.77 L247.00,163.46 L248.00,166.09 L249.00,168.67 L250.00,171.20 L251.00,173.69 L252.00,176.12 L253.00,178.50 L254.00,180.83 L255.00,183.11 L256.00,185.34 L257.00,187.52 L258.00,189.65 L259.00,191.73 L260.00,193.77 L261.00,195.75 L262.00,197.69 L263.00,199.58 L264.00,201.43 L265.00,203.23 L266.00,204.99 L267.00,206.70 L268.00,208.38 L269.00,210.01 L270.00,211.60 L271.00,213.14 L272.00,214.65 L273.00,216.13 L274.00,217.56 L275.00,218.96 L276.00,220.32 L277.00,221.65 L278.00,222.94 L279.00,224.20 L280.00,225.43 L281.00,226.62 L282.00,227.79 L283.00,228.92 L284.00,230.03 L285.00,231.10 L286.00,232.15 L287.00,233.17 L288.00,234.17 L289.00,235.14 L290.00,236.08 L291.00,237.01 L292.00,237.90 L293.00,238.78 L294.00,239.63 L295.00,240.46 L296.00,241.26 L297.00,242.05 L298.00,242.82 L299.00,243.57 L300.00,244.30 L301.00,245.01 L302.00,245.70 L303.00,246.37 L304.00,247.03 L305.00,247.67 L306.00,248.29 L307.00,248.90 L308.00,249.50 L309.00,250.07 L310.00,250.64 L311.00,251.19 L312.00,251.72 L313.00,252.24 L314.00,252.75 L315.00,253.25 L316.00,253.73 L317.00,254.21 L318.00,254.67 L319.00,255.12 L320.00,255.55 L321.00,255.98 L322.00,256.40 L323.00,256.81 L324.00,257.20 L325.00,257.59 L326.00,257.97 L327.00,258.33 L328.00,258.69 L329.00,259.04 L330.00,259.38 L331.00,259.72 L332.00,260.04 L333.00,260.36 L334.00,260.67 L335.00,260.97 L336.00,261.27 L337.00,261.56 L338.00,261.84 L339.00,262.11 L340.00,262.38 L341.00,262.64 L342.00,262.90 L343.00,263.15 L344.00,263.39 L345.00,263.63 L346.00,263.86 L347.00,264.09 L348.00,264.31 L349.00,264.52 L350.00,264.73 L351.00,264.94 L352.00,265.14 L353.00,265.34 L354.00,265.53 L355.00,265.71 L356.00,265.90 L357.00,266.08 L358.00,266.25 L359.00,266.42 L360.00,266.59 L361.00,266.75 L362.00,266.91 L363.00,267.06 L364.00,267.21 L365.00,267.36 L366.00,267.51 L367.00,267.65 L368.00,267.78 L369.00,267.92 L370.00,268.05 L371.00,268.18 L372.00,268.31 L373.00,268.43 L374.00,268.55 L375.00,268.67 L376.00,268.78 L377.00,268.89 L378.00,269.00 L379.00,269.11 L380.00,269.21 L381.00,269.31 L382.00,269.41 L383.00,269.51 L384.00,269.61 L385.00,269.70 L386.00,269.79 L387.00,269.88 L388.00,269.97 L389.00,270.05 L390.00,270.13 L391.00,270.22 L392.00,270.29 L393.00,270.37 L394.00,270.45 L395.00,270.52 L396.00,270.59 L397.00,270.66 L398.00,270.73 L399.00,270.80 L400.00,270.87 L401.00,270.93 L402.00,271.00 L403.00,271.06 L404.00,271.12 L405.00,271.18 L406.00,271.23 L407.00,271.29 L408.00,271.35 L409.00,271.40 L410.00,271.45 L411.00,271.50 L412.00,271.55 L413.00,271.60 L414.00,271.65 L415.00,271.70 L416.00,271.75 L417.00,271.79 L418.00,271.83 L419.00,271.88 L420.00,271.92 L421.00,271.96 L422.00,272.00 L423.00,272.04 L424.00,272.08 L425.00,272.12 L426.00,272.15 L427.00,272.19 L428.00,272.22 L429.00,272.26 L430.00,272.29 L431.00,272.33 L432.00,272.36 L433.00,272.39 L434.00,272.42 L435.00,272.45 L436.00,272.48 L437.00,272.51 L438.00,272.54 L439.00,272.56 L440.00,272.59 L441.00,272.62 L442.00,272.64 L443.00,272.67 L444.00,272.69 L445.00,272.72 L446.00,272.74 L447.00,272.76 L448.00,272.79 L449.00,272.81 L450.00,272.83 L451.00,272.85 L452.00,272.87 L453.00,272.89 L454.00,272.91 L455.00,272.93 L456.00,272.95 L457.00,272.97 L458.00,272.99 L459.00,273.00 L460.00,273.02 L461.00,273.04 L462.00,273.05 L463.00,273.07 L464.00,273.09 L465.00,273.10 L466.00,273.12 L467.00,273.13 L468.00,273.15 L469.00,273.16 L470.00,273.17 L471.00,273.19 L472.00,273.20 L473.00,273.21 L474.00,273.23 L475.00,273.24 L476.00,273.25 L477.00,273.26 L478.00,273.27 L479.00,273.29 L480.00,273.30 L481.00,273.31 L482.00,273.32 L483.00,273.33 L484.00,273.34 L485.00,273.35 L486.00,273.36 L487.00,273.37 L488.00,273.38 L489.00,273.39 L490.00,273.40 L491.00,273.40 L492.00,273.41 L493.00,273.42 L494.00,273.43 L495.00,273.44 L496.00,273.45 L497.00,273.45 L498.00,273.46 L499.00,273.47 L500.00,273.48 L501.00,273.48 L502.00,273.49 L503.00,273.50 L504.00,273.50 L505.00,273.51 L506.00,273.52 L507.00,273.52 L508.00,273.53 L509.00,273.53 L510.00,273.54 L511.00,273.54 L512.00,273.55 L513.00,273.56 L514.00,273.56 L515.00,273.57 L516.00,273.57 L517.00,273.58 L518.00,273.58 L519.00,273.59 L520.00,273.59 L521.00,273.59 L522.00,273.60 L523.00,273.60 L524.00,273.61 L525.00,273.61 L526.00,273.62 L527.00,273.62 L528.00,273.62 L529.00,273.63 L530.00,273.63 L531.00,273.63 L532.00,273.64 L533.00,273.64 L534.00,273.65 L535.00,273.65 L536.00,273.65 L537.00,273.65 L538.00,273.66 L539.00,273.66 L540.00,273.66 L541.00,273.67 L542.00,273.67 L543.00,273.67 L544.00,273.68 L545.00,273.68 L546.00,273.68 L547.00,273.68 L548.00,273.69 L549.00,273.69 L550.00,273.69 L551.00,273.69 L552.00,273.70 L553.00,273.70 L554.00,273.70 L555.00,273.70 L556.00,273.70 L557.00,273.71 L558.00,273.71 L559.00,273.71 L560.00,273.71 L561.00,273.71 L562.00,273.72 L563.00,273.72 L564.00,273.72 L565.00,273.72 L566.00,273.72 L567.00,273.72 L568.00,273.73 L569.00,273.73 L570.00,273.73 L571.00,273.73 L572.00,273.73 L573.00,273.73 L574.00,273.74 L575.00,273.74 L576.00,273.74 L577.00,273.74 L578.00,273.74 L579.00,273.74 L580.00,273.74 L581.00,273.74 L582.00,273.75 L583.00,273.75 L584.00,273.75 L585.00,273.75 L586.00,273.75 L587.00,273.75 L588.00,273.75 L589.00,273.75 L590.00,273.75 L591.00,273.76 L592.00,273.76 L593.00,273.76 L594.00,273.76 L595.00,273.76 L596.00,273.76"/>
<path stroke="#ED6C2B" d="M47.30,213.87 L48.10,207.68 L50.10,185.01 L52.50,108.32 L54.30,38.89 L54.74,57.84 L55.19,79.51 L55.41,108.32 L55.56,165.68 L55.71,206.47 L56.00,250.26 L56.22,262.72 L56.52,267.44 L56.96,270.18 L57.33,272.76 L58.00,273.54 L58.40,273.54 L58.70,273.54 L58.90,273.80 L59.15,273.80 L59.40,273.77 L59.65,273.68 L59.90,273.48 L60.15,273.17 L60.40,272.75 L60.65,272.22 L60.90,271.60 L61.15,270.91 L61.40,270.18 L61.65,269.41 L61.90,268.62 L62.15,267.82 L62.40,267.03 L62.65,266.24 L62.90,265.47 L63.15,264.71 L63.40,263.98 L63.65,263.26 L63.90,262.56 L64.15,261.89 L64.40,261.23 L64.65,260.60 L64.90,259.99 L65.15,259.40 L65.40,258.82 L65.65,258.27 L65.90,257.73 L66.15,257.21 L66.40,256.70 L66.65,256.21 L66.90,255.73 L67.15,255.26 L67.40,254.81 L67.65,254.37 L67.90,253.94 L68.15,253.52 L68.40,253.11 L68.65,252.71 L68.90,252.32 L69.15,251.94 L69.40,251.57 L69.65,251.20 L69.90,250.84 L70.15,250.49 L70.40,250.14 L70.65,249.80 L70.90,249.46 L71.15,249.13 L71.40,248.81 L71.65,248.49 L71.90,248.17 L72.15,247.86 L72.40,247.55 L72.65,247.25 L72.90,246.95 L73.15,246.65 L73.40,246.36 L73.65,246.07 L73.90,245.78 L74.15,245.50 L74.40,245.21 L74.65,244.93 L74.90,244.66 L75.15,244.38 L75.40,244.11 L75.65,243.84 L75.90,243.57 L76.15,243.30 L76.40,243.03 L76.65,242.77 L76.90,242.50 L77.15,242.24 L77.40,241.98 L77.65,241.72 L77.90,241.46 L78.15,241.20 L78.40,240.95 L78.65,240.69 L78.90,240.44 L79.15,240.18 L79.40,239.93 L79.65,239.68 L79.90,239.42 L80.15,239.17 L80.40,238.92 L80.65,238.67 L80.90,238.42 L81.15,238.17 L81.40,237.92 L81.65,237.67 L81.90,237.42 L82.15,237.17 L82.40,236.92 L82.65,236.68 L82.90,236.43 L83.15,236.18 L83.40,235.93 L83.65,235.68 L83.90,235.43 L84.15,235.18 L84.40,234.93 L84.65,234.69 L84.90,234.44 L85.15,234.19 L85.40,233.94 L85.65,233.69 L85.90,233.44 L86.15,233.19 L86.40,232.94 L86.65,232.69 L86.90,232.44 L87.15,232.18 L87.40,231.93 L87.65,231.68 L87.90,231.43 L88.15,231.17 L88.40,230.92 L88.65,230.66 L88.90,230.41 L89.15,230.15 L89.40,229.90 L89.65,229.64 L89.90,229.39 L90.15,229.13 L90.40,228.87 L90.65,228.61 L90.90,228.35 L91.15,228.09 L91.40,227.83 L91.65,227.57 L91.90,227.31 L92.15,227.04 L92.40,226.78 L92.65,226.52 L92.90,226.25 L93.15,225.98 L93.40,225.72 L93.65,225.45 L93.90,225.18 L94.15,224.91 L94.40,224.64 L94.65,224.37 L94.90,224.10 L95.15,223.83 L95.40,223.55 L95.65,223.28 L95.90,223.01 L96.15,222.73 L96.40,222.45 L96.65,222.17 L96.90,221.90 L97.15,221.62 L97.40,221.34 L97.65,221.05 L97.90,220.77 L98.15,220.49 L98.40,220.20 L98.65,219.92 L98.90,219.63 L99.15,219.34 L99.40,219.05 L99.65,218.76 L99.90,218.47 L100.15,218.18 L100.40,217.89 L100.65,217.59 L100.90,217.30 L101.15,217.00 L101.40,216.70 L101.65,216.41 L101.90,216.11 L102.15,215.81 L102.40,215.50 L102.65,215.20 L102.90,214.90 L103.15,214.59 L103.40,214.28 L103.65,213.98 L103.90,213.67 L104.15,213.36 L104.40,213.05 L104.65,212.73 L104.90,212.42 L105.15,212.10 L105.40,211.79 L105.65,211.47 L105.90,211.15 L106.15,210.83 L106.40,210.51 L106.65,210.19 L106.90,209.86 L107.15,209.54 L107.40,209.21 L107.65,208.88 L107.90,208.55 L108.15,208.22 L108.40,207.89 L108.65,207.56 L108.90,207.22 L109.15,206.89 L109.40,206.55 L109.65,206.21 L109.90,205.87 L110.15,205.53 L110.40,205.19 L110.65,204.84 L110.90,204.50 L111.15,204.15 L111.40,203.80 L111.65,203.45 L111.90,203.10 L112.15,202.75 L112.40,202.39 L112.65,202.04 L112.90,201.68 L113.15,201.32 L113.40,200.96 L113.65,200.60 L113.90,200.24 L114.15,199.87 L114.40,199.51 L114.65,199.14 L114.90,198.77 L115.15,198.40 L115.40,198.03 L115.65,197.66 L115.90,197.28 L116.15,196.90 L116.40,196.53 L116.65,196.15 L116.90,195.77 L117.15,195.38 L117.40,195.00 L117.65,194.61 L117.90,194.23 L118.15,193.84 L118.40,193.45 L118.65,193.05 L118.90,192.66 L119.15,192.26 L119.40,191.87 L119.65,191.47 L119.90,191.07 L120.15,190.67 L120.40,190.26 L120.65,189.86 L120.90,189.45 L121.15,189.04 L121.40,188.63 L121.65,188.22 L121.90,187.81 L122.15,187.39 L122.40,186.97 L122.65,186.56 L122.90,186.14 L123.15,185.71 L123.40,185.29 L123.65,184.86 L123.90,184.44 L124.15,184.01 L124.40,183.58 L124.65,183.15 L124.90,182.71 L125.15,182.28 L125.40,181.84 L125.65,181.40 L125.90,180.96 L126.15,180.52 L126.40,180.08 L126.65,179.63 L126.90,179.18 L127.15,178.73 L127.40,178.28 L127.65,177.83 L127.90,177.37 L128.15,176.92 L128.40,176.46 L128.65,176.00 L128.90,175.54 L129.15,175.08 L129.40,174.61 L129.65,174.14 L129.90,173.68 L130.00,173.49 L131.00,171.59 L132.00,169.67 L133.00,167.72 L134.00,165.74 L135.00,163.73 L136.00,161.70 L137.00,159.63 L138.00,157.54 L139.00,155.42 L140.00,153.28 L141.00,151.11 L142.00,148.91 L143.00,146.68 L144.00,144.43 L145.00,142.15 L146.00,139.85 L147.00,137.53 L148.00,135.18 L149.00,132.82 L150.00,130.43 L151.00,128.02 L152.00,125.59 L153.00,123.15 L154.00,120.69 L155.00,118.22 L156.00,115.74 L157.00,113.24 L158.00,110.74 L159.00,108.23 L160.00,105.71 L161.00,103.20 L162.00,100.68 L163.00,98.17 L164.00,95.66 L165.00,93.16 L166.00,90.67 L167.00,88.20 L168.00,85.74 L169.00,83.30 L170.00,80.89 L171.00,78.50 L172.00,76.15 L173.00,73.83 L174.00,71.55 L175.00,69.31 L176.00,67.12 L177.00,64.98 L178.00,62.89 L179.00,60.87 L180.00,58.90 L181.00,57.00 L182.00,55.17 L183.00,53.42 L184.00,51.74 L185.00,50.15 L186.00,48.64 L187.00,47.23 L188.00,45.91 L189.00,44.68 L190.00,43.56 L191.00,42.54 L192.00,41.63 L193.00,40.82 L194.00,40.13 L195.00,39.55 L196.00,39.09 L197.00,38.74 L198.00,38.52 L199.00,38.41 L200.00,38.42 L201.00,38.56 L202.00,38.81 L203.00,39.19 L204.00,39.69 L205.00,40.31 L206.00,41.04 L207.00,41.89 L208.00,42.86 L209.00,43.94 L210.00,45.13 L211.00,46.43 L212.00,47.83 L213.00,49.34 L214.00,50.94 L215.00,52.64 L216.00,54.43 L217.00,56.31 L218.00,58.27 L219.00,60.31 L220.00,62.42 L221.00,64.61 L222.00,66.86 L223.00,69.18 L224.00,71.55 L225.00,73.98 L226.00,76.45 L227.00,78.97 L228.00,81.53 L229.00,84.12 L230.00,86.75 L231.00,89.41 L232.00,92.08 L233.00,94.78 L234.00,97.50 L235.00,100.22 L236.00,102.96 L237.00,105.70 L238.00,108.45 L239.00,111.19 L240.00,113.93 L241.00,116.66 L242.00,119.39 L243.00,122.10 L244.00,124.80 L245.00,127.49 L246.00,130.15 L247.00,132.80 L248.00,135.42 L249.00,138.02 L250.00,140.60 L251.00,143.15 L252.00,145.67 L253.00,148.16 L254.00,150.63 L255.00,153.06 L256.00,155.46 L257.00,157.83 L258.00,160.17 L259.00,162.47 L260.00,164.74 L261.00,166.97 L262.00,169.17 L263.00,171.34 L264.00,173.47 L265.00,175.56 L266.00,177.62 L267.00,179.64 L268.00,181.63 L269.00,183.59 L270.00,185.50 L271.00,187.39 L272.00,189.24 L273.00,191.05 L274.00,192.83 L275.00,194.57 L276.00,196.29 L277.00,197.97 L278.00,199.61 L279.00,201.23 L280.00,202.81 L281.00,204.36 L282.00,205.87 L283.00,207.36 L284.00,208.82 L285.00,210.24 L286.00,211.64 L287.00,213.01 L288.00,214.35 L289.00,215.66 L290.00,216.94 L291.00,218.20 L292.00,219.43 L293.00,220.63 L294.00,221.81 L295.00,222.96 L296.00,224.09 L297.00,225.19 L298.00,226.27 L299.00,227.32 L300.00,228.36 L301.00,229.37 L302.00,230.35 L303.00,231.32 L304.00,232.26 L305.00,233.19 L306.00,234.09 L307.00,234.97 L308.00,235.84 L309.00,236.68 L310.00,237.51 L311.00,238.32 L312.00,239.11 L313.00,239.88 L314.00,240.63 L315.00,241.37 L316.00,242.09 L317.00,242.80 L318.00,243.49 L319.00,244.16 L320.00,244.82 L321.00,245.47 L322.00,246.10 L323.00,246.71 L324.00,247.32 L325.00,247.90 L326.00,248.48 L327.00,249.04 L328.00,249.59 L329.00,250.13 L330.00,250.66 L331.00,251.17 L332.00,251.67 L333.00,252.16 L334.00,252.64 L335.00,253.11 L336.00,253.57 L337.00,254.02 L338.00,254.46 L339.00,254.89 L340.00,255.31 L341.00,255.72 L342.00,256.12 L343.00,256.51 L344.00,256.89 L345.00,257.27 L346.00,257.63 L347.00,257.99 L348.00,258.34 L349.00,258.68 L350.00,259.01 L351.00,259.34 L352.00,259.66 L353.00,259.97 L354.00,260.28 L355.00,260.58 L356.00,260.87 L357.00,261.15 L358.00,261.43 L359.00,261.70 L360.00,261.97 L361.00,262.23 L362.00,262.49 L363.00,262.74 L364.00,262.98 L365.00,263.22 L366.00,263.45 L367.00,263.68 L368.00,263.90 L369.00,264.12 L370.00,264.33 L371.00,264.54 L372.00,264.74 L373.00,264.94 L374.00,265.14 L375.00,265.33 L376.00,265.51 L377.00,265.69 L378.00,265.87 L379.00,266.05 L380.00,266.22 L381.00,266.38 L382.00,266.54 L383.00,266.70 L384.00,266.86 L385.00,267.01 L386.00,267.16 L387.00,267.30 L388.00,267.45 L389.00,267.59 L390.00,267.72 L391.00,267.85 L392.00,267.98 L393.00,268.11 L394.00,268.24 L395.00,268.36 L396.00,268.48 L397.00,268.59 L398.00,268.71 L399.00,268.82 L400.00,268.93 L401.00,269.03 L402.00,269.14 L403.00,269.24 L404.00,269.34 L405.00,269.44 L406.00,269.53 L407.00,269.62 L408.00,269.72 L409.00,269.80 L410.00,269.89 L411.00,269.98 L412.00,270.06 L413.00,270.14 L414.00,270.22 L415.00,270.30 L416.00,270.38 L417.00,270.45 L418.00,270.52 L419.00,270.59 L420.00,270.66 L421.00,270.73 L422.00,270.80 L423.00,270.86 L424.00,270.93 L425.00,270.99 L426.00,271.05 L427.00,271.11 L428.00,271.17 L429.00,271.23 L430.00,271.28 L431.00,271.34 L432.00,271.39 L433.00,271.44 L434.00,271.49 L435.00,271.54 L436.00,271.59 L437.00,271.64 L438.00,271.69 L439.00,271.73 L440.00,271.78 L441.00,271.82 L442.00,271.87 L443.00,271.91 L444.00,271.95 L445.00,271.99 L446.00,272.03 L447.00,272.07 L448.00,272.10 L449.00,272.14 L450.00,272.18 L451.00,272.21 L452.00,272.25 L453.00,272.28 L454.00,272.31 L455.00,272.34 L456.00,272.38 L457.00,272.41 L458.00,272.44 L459.00,272.47 L460.00,272.50 L461.00,272.52 L462.00,272.55 L463.00,272.58 L464.00,272.60 L465.00,272.63 L466.00,272.66 L467.00,272.68 L468.00,272.70 L469.00,272.73 L470.00,272.75 L471.00,272.77 L472.00,272.80 L473.00,272.82 L474.00,272.84 L475.00,272.86 L476.00,272.88 L477.00,272.90 L478.00,272.92 L479.00,272.94 L480.00,272.96 L481.00,272.98 L482.00,272.99 L483.00,273.01 L484.00,273.03 L485.00,273.04 L486.00,273.06 L487.00,273.08 L488.00,273.09 L489.00,273.11 L490.00,273.12 L491.00,273.14 L492.00,273.15 L493.00,273.17 L494.00,273.18 L495.00,273.19 L496.00,273.21 L497.00,273.22 L498.00,273.23 L499.00,273.24 L500.00,273.26 L501.00,273.27 L502.00,273.28 L503.00,273.29 L504.00,273.30 L505.00,273.31 L506.00,273.32 L507.00,273.33 L508.00,273.34 L509.00,273.35 L510.00,273.36 L511.00,273.37 L512.00,273.38 L513.00,273.39 L514.00,273.40 L515.00,273.41 L516.00,273.42 L517.00,273.42 L518.00,273.43 L519.00,273.44 L520.00,273.45 L521.00,273.46 L522.00,273.46 L523.00,273.47 L524.00,273.48 L525.00,273.48 L526.00,273.49 L527.00,273.50 L528.00,273.50 L529.00,273.51 L530.00,273.52 L531.00,273.52 L532.00,273.53 L533.00,273.53 L534.00,273.54 L535.00,273.55 L536.00,273.55 L537.00,273.56 L538.00,273.56 L539.00,273.57 L540.00,273.57 L541.00,273.58 L542.00,273.58 L543.00,273.59 L544.00,273.59 L545.00,273.60 L546.00,273.60 L547.00,273.60 L548.00,273.61 L549.00,273.61 L550.00,273.62 L551.00,273.62 L552.00,273.62 L553.00,273.63 L554.00,273.63 L555.00,273.64 L556.00,273.64 L557.00,273.64 L558.00,273.65 L559.00,273.65 L560.00,273.65 L561.00,273.66 L562.00,273.66 L563.00,273.66 L564.00,273.66 L565.00,273.67 L566.00,273.67 L567.00,273.67 L568.00,273.68 L569.00,273.68 L570.00,273.68 L571.00,273.68 L572.00,273.69 L573.00,273.69 L574.00,273.69 L575.00,273.69 L576.00,273.70 L577.00,273.70 L578.00,273.70 L579.00,273.70 L580.00,273.70 L581.00,273.71 L582.00,273.71 L583.00,273.71 L584.00,273.71 L585.00,273.71 L586.00,273.72 L587.00,273.72 L588.00,273.72 L589.00,273.72 L590.00,273.72 L591.00,273.72 L592.00,273.73 L593.00,273.73 L594.00,273.73 L595.00,273.73 L596.00,273.73"/>
<path stroke="#6e6e6e" d="M47.30,202.80 L47.56,200.94 L49.96,177.35 L52.84,102.26 L55.00,40.24 L55.54,56.47 L56.08,75.80 L56.35,102.26 L56.53,157.76 L56.71,199.67 L57.07,247.14 L57.34,261.15 L57.70,266.51 L58.00,268.57 L58.24,269.65 L58.40,271.36 L58.69,272.60 L58.70,272.63 L58.80,272.87 L58.90,273.80 L59.15,273.80 L59.40,273.76 L59.65,273.62 L59.90,273.33 L60.15,272.87 L60.40,272.24 L60.65,271.46 L60.90,270.55 L61.15,269.54 L61.40,268.45 L61.65,267.32 L61.90,266.17 L62.15,265.01 L62.40,263.85 L62.65,262.71 L62.90,261.59 L63.15,260.49 L63.40,259.43 L63.65,258.40 L63.90,257.40 L64.15,256.43 L64.40,255.50 L64.65,254.59 L64.90,253.72 L65.15,252.88 L65.40,252.07 L65.65,251.28 L65.90,250.52 L66.15,249.79 L66.40,249.08 L66.65,248.39 L66.90,247.72 L67.15,247.07 L67.40,246.44 L67.65,245.83 L67.90,245.23 L68.15,244.65 L68.40,244.08 L68.65,243.53 L68.90,242.99 L69.15,242.46 L69.40,241.95 L69.65,241.44 L69.90,240.95 L70.15,240.46 L70.40,239.99 L70.65,239.52 L70.90,239.06 L71.15,238.61 L71.40,238.17 L71.65,237.74 L71.90,237.31 L72.15,236.88 L72.40,236.47 L72.65,236.05 L72.90,235.65 L73.15,235.25 L73.40,234.85 L73.65,234.46 L73.90,234.07 L74.15,233.69 L74.40,233.31 L74.65,232.93 L74.90,232.56 L75.15,232.19 L75.40,231.83 L75.65,231.46 L75.90,231.10 L76.15,230.74 L76.40,230.39 L76.65,230.04 L76.90,229.69 L77.15,229.34 L77.40,228.99 L77.65,228.65 L77.90,228.30 L78.15,227.96 L78.40,227.62 L78.65,227.29 L78.90,226.95 L79.15,226.62 L79.40,226.28 L79.65,225.95 L79.90,225.62 L80.15,225.29 L80.40,224.96 L80.65,224.63 L80.90,224.30 L81.15,223.97 L81.40,223.65 L81.65,223.32 L81.90,223.00 L82.15,222.67 L82.40,222.35 L82.65,222.03 L82.90,221.70 L83.15,221.38 L83.40,221.06 L83.65,220.74 L83.90,220.42 L84.15,220.09 L84.40,219.77 L84.65,219.45 L84.90,219.13 L85.15,218.81 L85.40,218.49 L85.65,218.17 L85.90,217.85 L86.15,217.53 L86.40,217.20 L86.65,216.88 L86.90,216.56 L87.15,216.24 L87.40,215.92 L87.65,215.60 L87.90,215.28 L88.15,214.95 L88.40,214.63 L88.65,214.31 L88.90,213.98 L89.15,213.66 L89.40,213.34 L89.65,213.01 L89.90,212.69 L90.15,212.36 L90.40,212.04 L90.65,211.71 L90.90,211.38 L91.15,211.06 L91.40,210.73 L91.65,210.40 L91.90,210.07 L92.15,209.74 L92.40,209.41 L92.65,209.08 L92.90,208.75 L93.15,208.42 L93.40,208.09 L93.65,207.76 L93.90,207.42 L94.15,207.09 L94.40,206.75 L94.65,206.42 L94.90,206.08 L95.15,205.74 L95.40,205.41 L95.65,205.07 L95.90,204.73 L96.15,204.39 L96.40,204.05 L96.65,203.71 L96.90,203.37 L97.15,203.02 L97.40,202.68 L97.65,202.33 L97.90,201.99 L98.15,201.64 L98.40,201.30 L98.65,200.95 L98.90,200.60 L99.15,200.25 L99.40,199.90 L99.65,199.55 L99.90,199.20 L100.15,198.84 L100.40,198.49 L100.65,198.14 L100.90,197.78 L101.15,197.42 L101.40,197.07 L101.65,196.71 L101.90,196.35 L102.15,195.99 L102.40,195.63 L102.65,195.26 L102.90,194.90 L103.15,194.54 L103.40,194.17 L103.65,193.81 L103.90,193.44 L104.15,193.07 L104.40,192.70 L104.65,192.33 L104.90,191.96 L105.15,191.59 L105.40,191.22 L105.65,190.84 L105.90,190.47 L106.15,190.09 L106.40,189.72 L106.65,189.34 L106.90,188.96 L107.15,188.58 L107.40,188.20 L107.65,187.82 L107.90,187.43 L108.15,187.05 L108.40,186.66 L108.65,186.28 L108.90,185.89 L109.15,185.50 L109.40,185.11 L109.65,184.72 L109.90,184.33 L110.15,183.94 L110.40,183.54 L110.65,183.15 L110.90,182.75 L111.15,182.36 L111.40,181.96 L111.65,181.56 L111.90,181.16 L112.15,180.76 L112.40,180.36 L112.65,179.96 L112.90,179.55 L113.15,179.15 L113.40,178.74 L113.65,178.33 L113.90,177.92 L114.15,177.51 L114.40,177.10 L114.65,176.69 L114.90,176.28 L115.15,175.86 L115.40,175.45 L115.65,175.03 L115.90,174.62 L116.15,174.20 L116.40,173.78 L116.65,173.36 L116.90,172.94 L117.15,172.52 L117.40,172.09 L117.65,171.67 L117.90,171.24 L118.15,170.81 L118.40,170.39 L118.65,169.96 L118.90,169.53 L119.15,169.10 L119.40,168.67 L119.65,168.23 L119.90,167.80 L120.15,167.36 L120.40,166.93 L120.65,166.49 L120.90,166.05 L121.15,165.61 L121.40,165.17 L121.65,164.73 L121.90,164.29 L122.15,163.84 L122.40,163.40 L122.65,162.95 L122.90,162.51 L123.15,162.06 L123.40,161.61 L123.65,161.16 L123.90,160.71 L124.15,160.26 L124.40,159.81 L124.65,159.35 L124.90,158.90 L125.15,158.44 L125.40,157.98 L125.65,157.53 L125.90,157.07 L126.15,156.61 L126.40,156.15 L126.65,155.69 L126.90,155.22 L127.15,154.76 L127.40,154.30 L127.65,153.83 L127.90,153.37 L128.15,152.90 L128.40,152.43 L128.65,151.96 L128.90,151.49 L129.15,151.02 L129.40,150.55 L129.65,150.08 L129.90,149.60 L130.00,149.42 L131.00,147.51 L132.00,145.60 L133.00,143.67 L134.00,141.73 L135.00,139.78 L136.00,137.81 L137.00,135.84 L138.00,133.86 L139.00,131.87 L140.00,129.87 L141.00,127.86 L142.00,125.85 L143.00,123.84 L144.00,121.82 L145.00,119.80 L146.00,117.78 L147.00,115.75 L148.00,113.73 L149.00,111.71 L150.00,109.70 L151.00,107.68 L152.00,105.68 L153.00,103.68 L154.00,101.70 L155.00,99.72 L156.00,97.75 L157.00,95.80 L158.00,93.87 L159.00,91.95 L160.00,90.06 L161.00,88.18 L162.00,86.33 L163.00,84.50 L164.00,82.70 L165.00,80.92 L166.00,79.18 L167.00,77.47 L168.00,75.79 L169.00,74.15 L170.00,72.54 L171.00,70.98 L172.00,69.46 L173.00,67.98 L174.00,66.54 L175.00,65.15 L176.00,63.82 L177.00,62.53 L178.00,61.29 L179.00,60.11 L180.00,58.98 L181.00,57.91 L182.00,56.89 L183.00,55.94 L184.00,55.05 L185.00,54.21 L186.00,53.45 L187.00,52.74 L188.00,52.10 L189.00,51.53 L190.00,51.03 L191.00,50.59 L192.00,50.22 L193.00,49.92 L194.00,49.69 L195.00,49.52 L196.00,49.43 L197.00,49.41 L198.00,49.46 L199.00,49.57 L200.00,49.76 L201.00,50.01 L202.00,50.34 L203.00,50.73 L204.00,51.19 L205.00,51.72 L206.00,52.31 L207.00,52.97 L208.00,53.69 L209.00,54.48 L210.00,55.33 L211.00,56.24 L212.00,57.21 L213.00,58.24 L214.00,59.32 L215.00,60.47 L216.00,61.66 L217.00,62.91 L218.00,64.21 L219.00,65.57 L220.00,66.97 L221.00,68.41 L222.00,69.90 L223.00,71.44 L224.00,73.01 L225.00,74.63 L226.00,76.28 L227.00,77.97 L228.00,79.69 L229.00,81.45 L230.00,83.24 L231.00,85.05 L232.00,86.90 L233.00,88.77 L234.00,90.66 L235.00,92.58 L236.00,94.51 L237.00,96.47 L238.00,98.44 L239.00,100.43 L240.00,102.43 L241.00,104.44 L242.00,106.47 L243.00,108.50 L244.00,110.55 L245.00,112.60 L246.00,114.65 L247.00,116.71 L248.00,118.77 L249.00,120.83 L250.00,122.89 L251.00,124.95 L252.00,127.01 L253.00,129.07 L254.00,131.12 L255.00,133.16 L256.00,135.20 L257.00,137.23 L258.00,139.25 L259.00,141.26 L260.00,143.27 L261.00,145.26 L262.00,147.24 L263.00,149.20 L264.00,151.15 L265.00,153.09 L266.00,155.02 L267.00,156.93 L268.00,158.82 L269.00,160.70 L270.00,162.56 L271.00,164.40 L272.00,166.22 L273.00,168.03 L274.00,169.82 L275.00,171.59 L276.00,173.34 L277.00,175.07 L278.00,176.78 L279.00,178.47 L280.00,180.14 L281.00,181.79 L282.00,183.43 L283.00,185.04 L284.00,186.63 L285.00,188.19 L286.00,189.74 L287.00,191.27 L288.00,192.78 L289.00,194.26 L290.00,195.73 L291.00,197.17 L292.00,198.59 L293.00,199.99 L294.00,201.37 L295.00,202.73 L296.00,204.07 L297.00,205.39 L298.00,206.69 L299.00,207.97 L300.00,209.22 L301.00,210.46 L302.00,211.68 L303.00,212.88 L304.00,214.06 L305.00,215.21 L306.00,216.35 L307.00,217.47 L308.00,218.58 L309.00,219.66 L310.00,220.72 L311.00,221.77 L312.00,222.80 L313.00,223.81 L314.00,224.80 L315.00,225.77 L316.00,226.73 L317.00,227.67 L318.00,228.59 L319.00,229.50 L320.00,230.39 L321.00,231.26 L322.00,232.12 L323.00,232.96 L324.00,233.78 L325.00,234.60 L326.00,235.39 L327.00,236.17 L328.00,236.94 L329.00,237.69 L330.00,238.43 L331.00,239.15 L332.00,239.86 L333.00,240.55 L334.00,241.24 L335.00,241.91 L336.00,242.56 L337.00,243.21 L338.00,243.84 L339.00,244.46 L340.00,245.06 L341.00,245.66 L342.00,246.24 L343.00,246.81 L344.00,247.37 L345.00,247.92 L346.00,248.46 L347.00,248.99 L348.00,249.51 L349.00,250.01 L350.00,250.51 L351.00,251.00 L352.00,251.47 L353.00,251.94 L354.00,252.40 L355.00,252.85 L356.00,253.29 L357.00,253.72 L358.00,254.14 L359.00,254.55 L360.00,254.96 L361.00,255.35 L362.00,255.74 L363.00,256.12 L364.00,256.49 L365.00,256.86 L366.00,257.22 L367.00,257.57 L368.00,257.91 L369.00,258.25 L370.00,258.57 L371.00,258.90 L372.00,259.21 L373.00,259.52 L374.00,259.82 L375.00,260.12 L376.00,260.41 L377.00,260.69 L378.00,260.97 L379.00,261.25 L380.00,261.51 L381.00,261.77 L382.00,262.03 L383.00,262.28 L384.00,262.52 L385.00,262.76 L386.00,263.00 L387.00,263.23 L388.00,263.45 L389.00,263.67 L390.00,263.89 L391.00,264.10 L392.00,264.31 L393.00,264.51 L394.00,264.71 L395.00,264.90 L396.00,265.09 L397.00,265.28 L398.00,265.46 L399.00,265.64 L400.00,265.81 L401.00,265.98 L402.00,266.15 L403.00,266.31 L404.00,266.47 L405.00,266.63 L406.00,266.78 L407.00,266.93 L408.00,267.08 L409.00,267.23 L410.00,267.37 L411.00,267.50 L412.00,267.64 L413.00,267.77 L414.00,267.90 L415.00,268.03 L416.00,268.15 L417.00,268.27 L418.00,268.39 L419.00,268.51 L420.00,268.62 L421.00,268.73 L422.00,268.84 L423.00,268.94 L424.00,269.05 L425.00,269.15 L426.00,269.25 L427.00,269.35 L428.00,269.44 L429.00,269.54 L430.00,269.63 L431.00,269.72 L432.00,269.81 L433.00,269.89 L434.00,269.97 L435.00,270.06 L436.00,270.14 L437.00,270.22 L438.00,270.29 L439.00,270.37 L440.00,270.44 L441.00,270.51 L442.00,270.58 L443.00,270.65 L444.00,270.72 L445.00,270.79 L446.00,270.85 L447.00,270.92 L448.00,270.98 L449.00,271.04 L450.00,271.10 L451.00,271.16 L452.00,271.21 L453.00,271.27 L454.00,271.32 L455.00,271.38 L456.00,271.43 L457.00,271.48 L458.00,271.53 L459.00,271.58 L460.00,271.62 L461.00,271.67 L462.00,271.72 L463.00,271.76 L464.00,271.81 L465.00,271.85 L466.00,271.89 L467.00,271.93 L468.00,271.97 L469.00,272.01 L470.00,272.05 L471.00,272.09 L472.00,272.12 L473.00,272.16 L474.00,272.19 L475.00,272.23 L476.00,272.26 L477.00,272.30 L478.00,272.33 L479.00,272.36 L480.00,272.39 L481.00,272.42 L482.00,272.45 L483.00,272.48 L484.00,272.51 L485.00,272.54 L486.00,272.56 L487.00,272.59 L488.00,272.62 L489.00,272.64 L490.00,272.67 L491.00,272.69 L492.00,272.71 L493.00,272.74 L494.00,272.76 L495.00,272.78 L496.00,272.80 L497.00,272.83 L498.00,272.85 L499.00,272.87 L500.00,272.89 L501.00,272.91 L502.00,272.93 L503.00,272.94 L504.00,272.96 L505.00,272.98 L506.00,273.00 L507.00,273.02 L508.00,273.03 L509.00,273.05 L510.00,273.07 L511.00,273.08 L512.00,273.10 L513.00,273.11 L514.00,273.13 L515.00,273.14 L516.00,273.16 L517.00,273.17 L518.00,273.18 L519.00,273.20 L520.00,273.21 L521.00,273.22 L522.00,273.23 L523.00,273.25 L524.00,273.26 L525.00,273.27 L526.00,273.28 L527.00,273.29 L528.00,273.30 L529.00,273.31 L530.00,273.32 L531.00,273.33 L532.00,273.34 L533.00,273.35 L534.00,273.36 L535.00,273.37 L536.00,273.38 L537.00,273.39 L538.00,273.40 L539.00,273.41 L540.00,273.42 L541.00,273.43 L542.00,273.43 L543.00,273.44 L544.00,273.45 L545.00,273.46 L546.00,273.46 L547.00,273.47 L548.00,273.48 L549.00,273.48 L550.00,273.49 L551.00,273.50 L552.00,273.50 L553.00,273.51 L554.00,273.52 L555.00,273.52 L556.00,273.53 L557.00,273.53 L558.00,273.54 L559.00,273.55 L560.00,273.55 L561.00,273.56 L562.00,273.56 L563.00,273.57 L564.00,273.57 L565.00,273.58 L566.00,273.58 L567.00,273.59 L568.00,273.59 L569.00,273.60 L570.00,273.60 L571.00,273.60 L572.00,273.61 L573.00,273.61 L574.00,273.62 L575.00,273.62 L576.00,273.62 L577.00,273.63 L578.00,273.63 L579.00,273.64 L580.00,273.64 L581.00,273.64 L582.00,273.65 L583.00,273.65 L584.00,273.65 L585.00,273.66 L586.00,273.66 L587.00,273.66 L588.00,273.66 L589.00,273.67 L590.00,273.67 L591.00,273.67 L592.00,273.68 L593.00,273.68 L594.00,273.68 L595.00,273.68 L596.00,273.69"/>
<path stroke="#858585" d="M47.30,167.90 L49.34,150.57 L52.46,100.57 L54.80,72.71 L55.40,79.20 L56.00,87.60 L56.30,100.57 L56.50,135.13 L56.70,170.99 L57.10,228.60 L57.40,250.85 L57.80,260.21 L58.00,262.65 L58.40,265.92 L58.70,270.34 L58.80,271.24 L58.90,273.80 L59.15,273.80 L59.40,273.74 L59.65,273.54 L59.90,273.14 L60.15,272.50 L60.40,271.62 L60.65,270.53 L60.90,269.27 L61.15,267.87 L61.40,266.38 L61.65,264.83 L61.90,263.26 L62.15,261.68 L62.40,260.12 L62.65,258.59 L62.90,257.09 L63.15,255.64 L63.40,254.23 L63.65,252.87 L63.90,251.56 L64.15,250.30 L64.40,249.09 L64.65,247.92 L64.90,246.80 L65.15,245.72 L65.40,244.68 L65.65,243.68 L65.90,242.72 L66.15,241.79 L66.40,240.89 L66.65,240.02 L66.90,239.19 L67.15,238.37 L67.40,237.59 L67.65,236.83 L67.90,236.09 L68.15,235.37 L68.40,234.67 L68.65,233.99 L68.90,233.33 L69.15,232.69 L69.40,232.06 L69.65,231.45 L69.90,230.84 L70.15,230.26 L70.40,229.68 L70.65,229.12 L70.90,228.57 L71.15,228.03 L71.40,227.50 L71.65,226.97 L71.90,226.46 L72.15,225.96 L72.40,225.46 L72.65,224.97 L72.90,224.49 L73.15,224.02 L73.40,223.55 L73.65,223.08 L73.90,222.63 L74.15,222.18 L74.40,221.73 L74.65,221.29 L74.90,220.86 L75.15,220.43 L75.40,220.00 L75.65,219.58 L75.90,219.16 L76.15,218.74 L76.40,218.33 L76.65,217.92 L76.90,217.52 L77.15,217.12 L77.40,216.72 L77.65,216.32 L77.90,215.93 L78.15,215.54 L78.40,215.15 L78.65,214.76 L78.90,214.38 L79.15,214.00 L79.40,213.62 L79.65,213.24 L79.90,212.87 L80.15,212.49 L80.40,212.12 L80.65,211.75 L80.90,211.38 L81.15,211.01 L81.40,210.64 L81.65,210.28 L81.90,209.91 L82.15,209.55 L82.40,209.19 L82.65,208.83 L82.90,208.47 L83.15,208.11 L83.40,207.75 L83.65,207.39 L83.90,207.04 L84.15,206.68 L84.40,206.33 L84.65,205.97 L84.90,205.62 L85.15,205.26 L85.40,204.91 L85.65,204.56 L85.90,204.21 L86.15,203.86 L86.40,203.51 L86.65,203.15 L86.90,202.80 L87.15,202.45 L87.40,202.10 L87.65,201.76 L87.90,201.41 L88.15,201.06 L88.40,200.71 L88.65,200.36 L88.90,200.01 L89.15,199.66 L89.40,199.31 L89.65,198.97 L89.90,198.62 L90.15,198.27 L90.40,197.92 L90.65,197.57 L90.90,197.23 L91.15,196.88 L91.40,196.53 L91.65,196.18 L91.90,195.83 L92.15,195.48 L92.40,195.14 L92.65,194.79 L92.90,194.44 L93.15,194.09 L93.40,193.74 L93.65,193.39 L93.90,193.04 L94.15,192.69 L94.40,192.34 L94.65,191.99 L94.90,191.64 L95.15,191.29 L95.40,190.94 L95.65,190.59 L95.90,190.24 L96.15,189.89 L96.40,189.54 L96.65,189.18 L96.90,188.83 L97.15,188.48 L97.40,188.13 L97.65,187.77 L97.90,187.42 L98.15,187.07 L98.40,186.71 L98.65,186.36 L98.90,186.00 L99.15,185.65 L99.40,185.29 L99.65,184.94 L99.90,184.58 L100.15,184.22 L100.40,183.87 L100.65,183.51 L100.90,183.15 L101.15,182.79 L101.40,182.43 L101.65,182.08 L101.90,181.72 L102.15,181.36 L102.40,181.00 L102.65,180.64 L102.90,180.28 L103.15,179.92 L103.40,179.55 L103.65,179.19 L103.90,178.83 L104.15,178.47 L104.40,178.10 L104.65,177.74 L104.90,177.38 L105.15,177.01 L105.40,176.65 L105.65,176.28 L105.90,175.92 L106.15,175.55 L106.40,175.18 L106.65,174.82 L106.90,174.45 L107.15,174.08 L107.40,173.72 L107.65,173.35 L107.90,172.98 L108.15,172.61 L108.40,172.24 L108.65,171.87 L108.90,171.50 L109.15,171.13 L109.40,170.76 L109.65,170.39 L109.90,170.01 L110.15,169.64 L110.40,169.27 L110.65,168.90 L110.90,168.52 L111.15,168.15 L111.40,167.77 L111.65,167.40 L111.90,167.02 L112.15,166.65 L112.40,166.27 L112.65,165.90 L112.90,165.52 L113.15,165.14 L113.40,164.77 L113.65,164.39 L113.90,164.01 L114.15,163.63 L114.40,163.25 L114.65,162.88 L114.90,162.50 L115.15,162.12 L115.40,161.74 L115.65,161.36 L115.90,160.98 L116.15,160.59 L116.40,160.21 L116.65,159.83 L116.90,159.45 L117.15,159.07 L117.40,158.69 L117.65,158.30 L117.90,157.92 L118.15,157.54 L118.40,157.15 L118.65,156.77 L118.90,156.38 L119.15,156.00 L119.40,155.61 L119.65,155.23 L119.90,154.84 L120.15,154.46 L120.40,154.07 L120.65,153.69 L120.90,153.30 L121.15,152.92 L121.40,152.53 L121.65,152.14 L121.90,151.75 L122.15,151.37 L122.40,150.98 L122.65,150.59 L122.90,150.20 L123.15,149.82 L123.40,149.43 L123.65,149.04 L123.90,148.65 L124.15,148.26 L124.40,147.87 L124.65,147.49 L124.90,147.10 L125.15,146.71 L125.40,146.32 L125.65,145.93 L125.90,145.54 L126.15,145.15 L126.40,144.76 L126.65,144.37 L126.90,143.98 L127.15,143.59 L127.40,143.20 L127.65,142.81 L127.90,142.42 L128.15,142.03 L128.40,141.64 L128.65,141.25 L128.90,140.86 L129.15,140.47 L129.40,140.08 L129.65,139.69 L129.90,139.30 L130.00,139.15 L131.00,137.59 L132.00,136.03 L133.00,134.48 L134.00,132.92 L135.00,131.37 L136.00,129.83 L137.00,128.29 L138.00,126.75 L139.00,125.22 L140.00,123.70 L141.00,122.18 L142.00,120.67 L143.00,119.17 L144.00,117.68 L145.00,116.20 L146.00,114.73 L147.00,113.27 L148.00,111.83 L149.00,110.40 L150.00,108.98 L151.00,107.58 L152.00,106.19 L153.00,104.82 L154.00,103.47 L155.00,102.14 L156.00,100.83 L157.00,99.53 L158.00,98.26 L159.00,97.01 L160.00,95.78 L161.00,94.58 L162.00,93.40 L163.00,92.25 L164.00,91.12 L165.00,90.02 L166.00,88.94 L167.00,87.89 L168.00,86.88 L169.00,85.89 L170.00,84.93 L171.00,84.01 L172.00,83.11 L173.00,82.25 L174.00,81.43 L175.00,80.63 L176.00,79.87 L177.00,79.15 L178.00,78.46 L179.00,77.80 L180.00,77.18 L181.00,76.60 L182.00,76.06 L183.00,75.55 L184.00,75.08 L185.00,74.65 L186.00,74.26 L187.00,73.91 L188.00,73.59 L189.00,73.31 L190.00,73.08 L191.00,72.88 L192.00,72.72 L193.00,72.60 L194.00,72.52 L195.00,72.48 L196.00,72.48 L197.00,72.52 L198.00,72.60 L199.00,72.72 L200.00,72.87 L201.00,73.07 L202.00,73.30 L203.00,73.57 L204.00,73.88 L205.00,74.22 L206.00,74.60 L207.00,75.02 L208.00,75.48 L209.00,75.97 L210.00,76.50 L211.00,77.06 L212.00,77.66 L213.00,78.29 L214.00,78.96 L215.00,79.66 L216.00,80.39 L217.00,81.16 L218.00,81.95 L219.00,82.78 L220.00,83.64 L221.00,84.53 L222.00,85.44 L223.00,86.39 L224.00,87.37 L225.00,88.37 L226.00,89.40 L227.00,90.45 L228.00,91.53 L229.00,92.64 L230.00,93.77 L231.00,94.93 L232.00,96.10 L233.00,97.30 L234.00,98.52 L235.00,99.77 L236.00,101.03 L237.00,102.31 L238.00,103.61 L239.00,104.93 L240.00,106.27 L241.00,107.63 L242.00,109.00 L243.00,110.38 L244.00,111.78 L245.00,113.20 L246.00,114.63 L247.00,116.07 L248.00,117.52 L249.00,118.99 L250.00,120.46 L251.00,121.95 L252.00,123.44 L253.00,124.94 L254.00,126.45 L255.00,127.97 L256.00,129.50 L257.00,131.03 L258.00,132.56 L259.00,134.10 L260.00,135.65 L261.00,137.20 L262.00,138.75 L263.00,140.30 L264.00,141.85 L265.00,143.41 L266.00,144.96 L267.00,146.52 L268.00,148.07 L269.00,149.62 L270.00,151.17 L271.00,152.72 L272.00,154.26 L273.00,155.80 L274.00,157.34 L275.00,158.87 L276.00,160.40 L277.00,161.92 L278.00,163.44 L279.00,164.95 L280.00,166.45 L281.00,167.94 L282.00,169.43 L283.00,170.91 L284.00,172.38 L285.00,173.84 L286.00,175.29 L287.00,176.74 L288.00,178.17 L289.00,179.59 L290.00,181.00 L291.00,182.41 L292.00,183.80 L293.00,185.17 L294.00,186.54 L295.00,187.90 L296.00,189.24 L297.00,190.57 L298.00,191.89 L299.00,193.20 L300.00,194.49 L301.00,195.77 L302.00,197.04 L303.00,198.29 L304.00,199.53 L305.00,200.76 L306.00,201.98 L307.00,203.18 L308.00,204.36 L309.00,205.53 L310.00,206.69 L311.00,207.84 L312.00,208.97 L313.00,210.08 L314.00,211.19 L315.00,212.28 L316.00,213.35 L317.00,214.41 L318.00,215.46 L319.00,216.49 L320.00,217.51 L321.00,218.51 L322.00,219.50 L323.00,220.48 L324.00,221.44 L325.00,222.39 L326.00,223.32 L327.00,224.24 L328.00,225.15 L329.00,226.05 L330.00,226.93 L331.00,227.79 L332.00,228.65 L333.00,229.49 L334.00,230.32 L335.00,231.13 L336.00,231.93 L337.00,232.72 L338.00,233.50 L339.00,234.26 L340.00,235.01 L341.00,235.75 L342.00,236.48 L343.00,237.20 L344.00,237.90 L345.00,238.59 L346.00,239.27 L347.00,239.94 L348.00,240.59 L349.00,241.24 L350.00,241.87 L351.00,242.50 L352.00,243.11 L353.00,243.71 L354.00,244.30 L355.00,244.88 L356.00,245.45 L357.00,246.01 L358.00,246.56 L359.00,247.10 L360.00,247.63 L361.00,248.15 L362.00,248.66 L363.00,249.17 L364.00,249.66 L365.00,250.14 L366.00,250.62 L367.00,251.08 L368.00,251.54 L369.00,251.99 L370.00,252.43 L371.00,252.86 L372.00,253.29 L373.00,253.70 L374.00,254.11 L375.00,254.51 L376.00,254.90 L377.00,255.29 L378.00,255.66 L379.00,256.03 L380.00,256.40 L381.00,256.75 L382.00,257.10 L383.00,257.45 L384.00,257.78 L385.00,258.11 L386.00,258.43 L387.00,258.75 L388.00,259.06 L389.00,259.36 L390.00,259.66 L391.00,259.95 L392.00,260.24 L393.00,260.52 L394.00,260.80 L395.00,261.07 L396.00,261.33 L397.00,261.59 L398.00,261.84 L399.00,262.09 L400.00,262.34 L401.00,262.58 L402.00,262.81 L403.00,263.04 L404.00,263.26 L405.00,263.48 L406.00,263.70 L407.00,263.91 L408.00,264.12 L409.00,264.32 L410.00,264.52 L411.00,264.71 L412.00,264.90 L413.00,265.09 L414.00,265.27 L415.00,265.45 L416.00,265.63 L417.00,265.80 L418.00,265.97 L419.00,266.13 L420.00,266.29 L421.00,266.45 L422.00,266.61 L423.00,266.76 L424.00,266.91 L425.00,267.05 L426.00,267.20 L427.00,267.34 L428.00,267.47 L429.00,267.61 L430.00,267.74 L431.00,267.87 L432.00,267.99 L433.00,268.11 L434.00,268.23 L435.00,268.35 L436.00,268.47 L437.00,268.58 L438.00,268.69 L439.00,268.80 L440.00,268.91 L441.00,269.01 L442.00,269.11 L443.00,269.21 L444.00,269.31 L445.00,269.40 L446.00,269.50 L447.00,269.59 L448.00,269.68 L449.00,269.77 L450.00,269.85 L451.00,269.94 L452.00,270.02 L453.00,270.10 L454.00,270.18 L455.00,270.25 L456.00,270.33 L457.00,270.40 L458.00,270.48 L459.00,270.55 L460.00,270.62 L461.00,270.68 L462.00,270.75 L463.00,270.82 L464.00,270.88 L465.00,270.94 L466.00,271.00 L467.00,271.06 L468.00,271.12 L469.00,271.18 L470.00,271.23 L471.00,271.29 L472.00,271.34 L473.00,271.39 L474.00,271.45 L475.00,271.50 L476.00,271.55 L477.00,271.59 L478.00,271.64 L479.00,271.69 L480.00,271.73 L481.00,271.78 L482.00,271.82 L483.00,271.86 L484.00,271.90 L485.00,271.94 L486.00,271.98 L487.00,272.02 L488.00,272.06 L489.00,272.10 L490.00,272.13 L491.00,272.17 L492.00,272.20 L493.00,272.24 L494.00,272.27 L495.00,272.30 L496.00,272.34 L497.00,272.37 L498.00,272.40 L499.00,272.43 L500.00,272.46 L501.00,272.49 L502.00,272.51 L503.00,272.54 L504.00,272.57 L505.00,272.60 L506.00,272.62 L507.00,272.65 L508.00,272.67 L509.00,272.70 L510.00,272.72 L511.00,272.74 L512.00,272.76 L513.00,272.79 L514.00,272.81 L515.00,272.83 L516.00,272.85 L517.00,272.87 L518.00,272.89 L519.00,272.91 L520.00,272.93 L521.00,272.95 L522.00,272.97 L523.00,272.98 L524.00,273.00 L525.00,273.02 L526.00,273.04 L527.00,273.05 L528.00,273.07 L529.00,273.08 L530.00,273.10 L531.00,273.11 L532.00,273.13 L533.00,273.14 L534.00,273.16 L535.00,273.17 L536.00,273.18 L537.00,273.20 L538.00,273.21 L539.00,273.22 L540.00,273.24 L541.00,273.25 L542.00,273.26 L543.00,273.27 L544.00,273.28 L545.00,273.29 L546.00,273.30 L547.00,273.31 L548.00,273.33 L549.00,273.34 L550.00,273.35 L551.00,273.35 L552.00,273.36 L553.00,273.37 L554.00,273.38 L555.00,273.39 L556.00,273.40 L557.00,273.41 L558.00,273.42 L559.00,273.43 L560.00,273.43 L561.00,273.44 L562.00,273.45 L563.00,273.46 L564.00,273.46 L565.00,273.47 L566.00,273.48 L567.00,273.49 L568.00,273.49 L569.00,273.50 L570.00,273.51 L571.00,273.51 L572.00,273.52 L573.00,273.52 L574.00,273.53 L575.00,273.54 L576.00,273.54 L577.00,273.55 L578.00,273.55 L579.00,273.56 L580.00,273.56 L581.00,273.57 L582.00,273.57 L583.00,273.58 L584.00,273.58 L585.00,273.59 L586.00,273.59 L587.00,273.60 L588.00,273.60 L589.00,273.60 L590.00,273.61 L591.00,273.61 L592.00,273.62 L593.00,273.62 L594.00,273.62 L595.00,273.63 L596.00,273.63"/>
<path stroke="#9a9a9a" d="M47.30,161.22 L49.14,148.87 L52.26,114.35 L54.60,97.72 L55.20,101.46 L55.80,106.41 L56.10,114.35 L56.30,137.48 L56.50,165.06 L56.90,219.36 L57.20,244.59 L57.60,256.08 L58.00,261.53 L58.20,263.38 L58.40,267.92 L58.70,270.70 L58.80,271.28 L58.90,273.80 L59.15,273.79 L59.40,273.72 L59.65,273.46 L59.90,272.93 L60.15,272.09 L60.40,270.93 L60.65,269.50 L60.90,267.85 L61.15,266.04 L61.40,264.12 L61.65,262.15 L61.90,260.15 L62.15,258.17 L62.40,256.22 L62.65,254.31 L62.90,252.47 L63.15,250.69 L63.40,248.98 L63.65,247.34 L63.90,245.77 L64.15,244.27 L64.40,242.83 L64.65,241.46 L64.90,240.14 L65.15,238.89 L65.40,237.68 L65.65,236.52 L65.90,235.42 L66.15,234.35 L66.40,233.33 L66.65,232.35 L66.90,231.40 L67.15,230.49 L67.40,229.60 L67.65,228.75 L67.90,227.93 L68.15,227.13 L68.40,226.36 L68.65,225.61 L68.90,224.88 L69.15,224.18 L69.40,223.49 L69.65,222.82 L69.90,222.17 L70.15,221.53 L70.40,220.91 L70.65,220.30 L70.90,219.71 L71.15,219.13 L71.40,218.56 L71.65,218.00 L71.90,217.45 L72.15,216.92 L72.40,216.39 L72.65,215.87 L72.90,215.36 L73.15,214.86 L73.40,214.37 L73.65,213.89 L73.90,213.41 L74.15,212.94 L74.40,212.47 L74.65,212.01 L74.90,211.56 L75.15,211.11 L75.40,210.67 L75.65,210.24 L75.90,209.80 L76.15,209.38 L76.40,208.96 L76.65,208.54 L76.90,208.12 L77.15,207.71 L77.40,207.31 L77.65,206.90 L77.90,206.50 L78.15,206.11 L78.40,205.71 L78.65,205.32 L78.90,204.94 L79.15,204.55 L79.40,204.17 L79.65,203.79 L79.90,203.41 L80.15,203.04 L80.40,202.67 L80.65,202.30 L80.90,201.93 L81.15,201.56 L81.40,201.20 L81.65,200.84 L81.90,200.48 L82.15,200.12 L82.40,199.76 L82.65,199.41 L82.90,199.05 L83.15,198.70 L83.40,198.35 L83.65,198.00 L83.90,197.65 L84.15,197.30 L84.40,196.96 L84.65,196.61 L84.90,196.27 L85.15,195.93 L85.40,195.58 L85.65,195.24 L85.90,194.90 L86.15,194.57 L86.40,194.23 L86.65,193.89 L86.90,193.55 L87.15,193.22 L87.40,192.89 L87.65,192.55 L87.90,192.22 L88.15,191.89 L88.40,191.56 L88.65,191.22 L88.90,190.89 L89.15,190.56 L89.40,190.24 L89.65,189.91 L89.90,189.58 L90.15,189.25 L90.40,188.92 L90.65,188.60 L90.90,188.27 L91.15,187.95 L91.40,187.62 L91.65,187.30 L91.90,186.97 L92.15,186.65 L92.40,186.33 L92.65,186.00 L92.90,185.68 L93.15,185.36 L93.40,185.04 L93.65,184.71 L93.90,184.39 L94.15,184.07 L94.40,183.75 L94.65,183.43 L94.90,183.11 L95.15,182.79 L95.40,182.47 L95.65,182.15 L95.90,181.83 L96.15,181.51 L96.40,181.20 L96.65,180.88 L96.90,180.56 L97.15,180.24 L97.40,179.92 L97.65,179.61 L97.90,179.29 L98.15,178.97 L98.40,178.65 L98.65,178.34 L98.90,178.02 L99.15,177.70 L99.40,177.39 L99.65,177.07 L99.90,176.76 L100.15,176.44 L100.40,176.12 L100.65,175.81 L100.90,175.49 L101.15,175.18 L101.40,174.86 L101.65,174.55 L101.90,174.23 L102.15,173.92 L102.40,173.61 L102.65,173.29 L102.90,172.98 L103.15,172.66 L103.40,172.35 L103.65,172.03 L103.90,171.72 L104.15,171.41 L104.40,171.09 L104.65,170.78 L104.90,170.47 L105.15,170.15 L105.40,169.84 L105.65,169.53 L105.90,169.22 L106.15,168.90 L106.40,168.59 L106.65,168.28 L106.90,167.97 L107.15,167.66 L107.40,167.34 L107.65,167.03 L107.90,166.72 L108.15,166.41 L108.40,166.10 L108.65,165.79 L108.90,165.48 L109.15,165.17 L109.40,164.85 L109.65,164.54 L109.90,164.23 L110.15,163.92 L110.40,163.61 L110.65,163.30 L110.90,162.99 L111.15,162.68 L111.40,162.37 L111.65,162.07 L111.90,161.76 L112.15,161.45 L112.40,161.14 L112.65,160.83 L112.90,160.52 L113.15,160.21 L113.40,159.91 L113.65,159.60 L113.90,159.29 L114.15,158.98 L114.40,158.68 L114.65,158.37 L114.90,158.06 L115.15,157.76 L115.40,157.45 L115.65,157.14 L115.90,156.84 L116.15,156.53 L116.40,156.23 L116.65,155.92 L116.90,155.61 L117.15,155.31 L117.40,155.01 L117.65,154.70 L117.90,154.40 L118.15,154.09 L118.40,153.79 L118.65,153.49 L118.90,153.18 L119.15,152.88 L119.40,152.58 L119.65,152.28 L119.90,151.97 L120.15,151.67 L120.40,151.37 L120.65,151.07 L120.90,150.77 L121.15,150.47 L121.40,150.17 L121.65,149.87 L121.90,149.57 L122.15,149.27 L122.40,148.97 L122.65,148.67 L122.90,148.37 L123.15,148.08 L123.40,147.78 L123.65,147.48 L123.90,147.18 L124.15,146.89 L124.40,146.59 L124.65,146.29 L124.90,146.00 L125.15,145.70 L125.40,145.41 L125.65,145.12 L125.90,144.82 L126.15,144.53 L126.40,144.23 L126.65,143.94 L126.90,143.65 L127.15,143.36 L127.40,143.07 L127.65,142.78 L127.90,142.49 L128.15,142.20 L128.40,141.91 L128.65,141.62 L128.90,141.33 L129.15,141.04 L129.40,140.75 L129.65,140.46 L129.90,140.18 L130.00,140.06 L131.00,138.92 L132.00,137.79 L133.00,136.66 L134.00,135.55 L135.00,134.44 L136.00,133.34 L137.00,132.25 L138.00,131.18 L139.00,130.11 L140.00,129.06 L141.00,128.01 L142.00,126.98 L143.00,125.96 L144.00,124.95 L145.00,123.96 L146.00,122.98 L147.00,122.01 L148.00,121.06 L149.00,120.12 L150.00,119.20 L151.00,118.29 L152.00,117.40 L153.00,116.52 L154.00,115.66 L155.00,114.82 L156.00,113.99 L157.00,113.18 L158.00,112.39 L159.00,111.62 L160.00,110.86 L161.00,110.13 L162.00,109.41 L163.00,108.71 L164.00,108.03 L165.00,107.37 L166.00,106.73 L167.00,106.11 L168.00,105.51 L169.00,104.93 L170.00,104.38 L171.00,103.84 L172.00,103.33 L173.00,102.83 L174.00,102.36 L175.00,101.91 L176.00,101.48 L177.00,101.08 L178.00,100.69 L179.00,100.33 L180.00,99.99 L181.00,99.67 L182.00,99.38 L183.00,99.11 L184.00,98.86 L185.00,98.63 L186.00,98.43 L187.00,98.25 L188.00,98.09 L189.00,97.95 L190.00,97.84 L191.00,97.75 L192.00,97.68 L193.00,97.64 L194.00,97.61 L195.00,97.61 L196.00,97.64 L197.00,97.68 L198.00,97.75 L199.00,97.84 L200.00,97.95 L201.00,98.08 L202.00,98.23 L203.00,98.41 L204.00,98.61 L205.00,98.83 L206.00,99.07 L207.00,99.33 L208.00,99.61 L209.00,99.91 L210.00,100.24 L211.00,100.58 L212.00,100.94 L213.00,101.33 L214.00,101.73 L215.00,102.16 L216.00,102.60 L217.00,103.06 L218.00,103.54 L219.00,104.04 L220.00,104.56 L221.00,105.10 L222.00,105.66 L223.00,106.24 L224.00,106.83 L225.00,107.44 L226.00,108.07 L227.00,108.72 L228.00,109.38 L229.00,110.06 L230.00,110.76 L231.00,111.48 L232.00,112.21 L233.00,112.95 L234.00,113.72 L235.00,114.50 L236.00,115.29 L237.00,116.10 L238.00,116.93 L239.00,117.77 L240.00,118.62 L241.00,119.49 L242.00,120.38 L243.00,121.27 L244.00,122.18 L245.00,123.11 L246.00,124.05 L247.00,125.00 L248.00,125.96 L249.00,126.94 L250.00,127.93 L251.00,128.93 L252.00,129.94 L253.00,130.96 L254.00,131.99 L255.00,133.04 L256.00,134.09 L257.00,135.15 L258.00,136.23 L259.00,137.31 L260.00,138.40 L261.00,139.51 L262.00,140.62 L263.00,141.73 L264.00,142.86 L265.00,143.99 L266.00,145.13 L267.00,146.28 L268.00,147.43 L269.00,148.59 L270.00,149.75 L271.00,150.92 L272.00,152.10 L273.00,153.28 L274.00,154.46 L275.00,155.65 L276.00,156.84 L277.00,158.03 L278.00,159.23 L279.00,160.43 L280.00,161.63 L281.00,162.83 L282.00,164.04 L283.00,165.24 L284.00,166.45 L285.00,167.66 L286.00,168.86 L287.00,170.07 L288.00,171.27 L289.00,172.48 L290.00,173.68 L291.00,174.88 L292.00,176.08 L293.00,177.27 L294.00,178.47 L295.00,179.66 L296.00,180.84 L297.00,182.03 L298.00,183.21 L299.00,184.38 L300.00,185.55 L301.00,186.72 L302.00,187.88 L303.00,189.03 L304.00,190.18 L305.00,191.32 L306.00,192.46 L307.00,193.59 L308.00,194.71 L309.00,195.83 L310.00,196.94 L311.00,198.04 L312.00,199.13 L313.00,200.22 L314.00,201.30 L315.00,202.37 L316.00,203.43 L317.00,204.49 L318.00,205.53 L319.00,206.57 L320.00,207.59 L321.00,208.61 L322.00,209.62 L323.00,210.62 L324.00,211.61 L325.00,212.59 L326.00,213.56 L327.00,214.52 L328.00,215.48 L329.00,216.42 L330.00,217.35 L331.00,218.27 L332.00,219.18 L333.00,220.08 L334.00,220.97 L335.00,221.85 L336.00,222.72 L337.00,223.58 L338.00,224.43 L339.00,225.27 L340.00,226.10 L341.00,226.92 L342.00,227.73 L343.00,228.52 L344.00,229.31 L345.00,230.09 L346.00,230.85 L347.00,231.61 L348.00,232.35 L349.00,233.09 L350.00,233.81 L351.00,234.53 L352.00,235.23 L353.00,235.93 L354.00,236.61 L355.00,237.29 L356.00,237.95 L357.00,238.61 L358.00,239.25 L359.00,239.89 L360.00,240.51 L361.00,241.13 L362.00,241.73 L363.00,242.33 L364.00,242.92 L365.00,243.49 L366.00,244.06 L367.00,244.62 L368.00,245.17 L369.00,245.72 L370.00,246.25 L371.00,246.77 L372.00,247.29 L373.00,247.80 L374.00,248.29 L375.00,248.78 L376.00,249.27 L377.00,249.74 L378.00,250.21 L379.00,250.66 L380.00,251.11 L381.00,251.55 L382.00,251.99 L383.00,252.41 L384.00,252.83 L385.00,253.24 L386.00,253.65 L387.00,254.05 L388.00,254.44 L389.00,254.82 L390.00,255.19 L391.00,255.56 L392.00,255.93 L393.00,256.28 L394.00,256.63 L395.00,256.97 L396.00,257.31 L397.00,257.64 L398.00,257.97 L399.00,258.28 L400.00,258.60 L401.00,258.90 L402.00,259.20 L403.00,259.50 L404.00,259.79 L405.00,260.07 L406.00,260.35 L407.00,260.62 L408.00,260.89 L409.00,261.15 L410.00,261.41 L411.00,261.66 L412.00,261.91 L413.00,262.15 L414.00,262.39 L415.00,262.63 L416.00,262.86 L417.00,263.08 L418.00,263.30 L419.00,263.52 L420.00,263.73 L421.00,263.94 L422.00,264.14 L423.00,264.34 L424.00,264.53 L425.00,264.73 L426.00,264.91 L427.00,265.10 L428.00,265.28 L429.00,265.45 L430.00,265.63 L431.00,265.80 L432.00,265.96 L433.00,266.13 L434.00,266.29 L435.00,266.44 L436.00,266.60 L437.00,266.75 L438.00,266.89 L439.00,267.04 L440.00,267.18 L441.00,267.32 L442.00,267.45 L443.00,267.59 L444.00,267.72 L445.00,267.84 L446.00,267.97 L447.00,268.09 L448.00,268.21 L449.00,268.33 L450.00,268.44 L451.00,268.56 L452.00,268.67 L453.00,268.77 L454.00,268.88 L455.00,268.98 L456.00,269.08 L457.00,269.18 L458.00,269.28 L459.00,269.38 L460.00,269.47 L461.00,269.56 L462.00,269.65 L463.00,269.74 L464.00,269.82 L465.00,269.91 L466.00,269.99 L467.00,270.07 L468.00,270.15 L469.00,270.23 L470.00,270.30 L471.00,270.38 L472.00,270.45 L473.00,270.52 L474.00,270.59 L475.00,270.66 L476.00,270.72 L477.00,270.79 L478.00,270.85 L479.00,270.92 L480.00,270.98 L481.00,271.04 L482.00,271.10 L483.00,271.15 L484.00,271.21 L485.00,271.26 L486.00,271.32 L487.00,271.37 L488.00,271.42 L489.00,271.47 L490.00,271.52 L491.00,271.57 L492.00,271.62 L493.00,271.66 L494.00,271.71 L495.00,271.75 L496.00,271.80 L497.00,271.84 L498.00,271.88 L499.00,271.92 L500.00,271.96 L501.00,272.00 L502.00,272.04 L503.00,272.08 L504.00,272.12 L505.00,272.15 L506.00,272.19 L507.00,272.22 L508.00,272.25 L509.00,272.29 L510.00,272.32 L511.00,272.35 L512.00,272.38 L513.00,272.41 L514.00,272.44 L515.00,272.47 L516.00,272.50 L517.00,272.53 L518.00,272.55 L519.00,272.58 L520.00,272.61 L521.00,272.63 L522.00,272.66 L523.00,272.68 L524.00,272.71 L525.00,272.73 L526.00,272.75 L527.00,272.77 L528.00,272.80 L529.00,272.82 L530.00,272.84 L531.00,272.86 L532.00,272.88 L533.00,272.90 L534.00,272.92 L535.00,272.94 L536.00,272.96 L537.00,272.97 L538.00,272.99 L539.00,273.01 L540.00,273.03 L541.00,273.04 L542.00,273.06 L543.00,273.07 L544.00,273.09 L545.00,273.10 L546.00,273.12 L547.00,273.13 L548.00,273.15 L549.00,273.16 L550.00,273.18 L551.00,273.19 L552.00,273.20 L553.00,273.21 L554.00,273.23 L555.00,273.24 L556.00,273.25 L557.00,273.26 L558.00,273.27 L559.00,273.29 L560.00,273.30 L561.00,273.31 L562.00,273.32 L563.00,273.33 L564.00,273.34 L565.00,273.35 L566.00,273.36 L567.00,273.37 L568.00,273.38 L569.00,273.39 L570.00,273.39 L571.00,273.40 L572.00,273.41 L573.00,273.42 L574.00,273.43 L575.00,273.44 L576.00,273.44 L577.00,273.45 L578.00,273.46 L579.00,273.47 L580.00,273.47 L581.00,273.48 L582.00,273.49 L583.00,273.49 L584.00,273.50 L585.00,273.51 L586.00,273.51 L587.00,273.52 L588.00,273.53 L589.00,273.53 L590.00,273.54 L591.00,273.54 L592.00,273.55 L593.00,273.55 L594.00,273.56 L595.00,273.56 L596.00,273.57"/>
<path stroke="#adadad" d="M47.30,164.41 L49.26,154.13 L52.14,131.56 L54.30,121.75 L54.96,123.91 L55.62,126.80 L55.95,131.56 L56.17,146.33 L56.39,165.91 L56.83,212.40 L57.16,238.62 L57.60,251.79 L58.00,257.85 L58.26,260.58 L58.40,264.70 L58.70,268.95 L58.80,269.72 L58.90,273.80 L59.15,273.79 L59.40,273.69 L59.65,273.36 L59.90,272.69 L60.15,271.61 L60.40,270.14 L60.65,268.33 L60.90,266.27 L61.15,264.02 L61.40,261.67 L61.65,259.26 L61.90,256.86 L62.15,254.50 L62.40,252.20 L62.65,249.98 L62.90,247.85 L63.15,245.81 L63.40,243.87 L63.65,242.02 L63.90,240.27 L64.15,238.60 L64.40,237.02 L64.65,235.52 L64.90,234.10 L65.15,232.74 L65.40,231.45 L65.65,230.22 L65.90,229.04 L66.15,227.92 L66.40,226.85 L66.65,225.83 L66.90,224.85 L67.15,223.90 L67.40,223.00 L67.65,222.13 L67.90,221.29 L68.15,220.48 L68.40,219.70 L68.65,218.94 L68.90,218.21 L69.15,217.50 L69.40,216.82 L69.65,216.15 L69.90,215.50 L70.15,214.88 L70.40,214.26 L70.65,213.67 L70.90,213.09 L71.15,212.52 L71.40,211.97 L71.65,211.42 L71.90,210.90 L72.15,210.38 L72.40,209.87 L72.65,209.37 L72.90,208.89 L73.15,208.41 L73.40,207.94 L73.65,207.48 L73.90,207.02 L74.15,206.58 L74.40,206.14 L74.65,205.70 L74.90,205.28 L75.15,204.86 L75.40,204.44 L75.65,204.04 L75.90,203.63 L76.15,203.24 L76.40,202.84 L76.65,202.46 L76.90,202.07 L77.15,201.69 L77.40,201.32 L77.65,200.95 L77.90,200.58 L78.15,200.22 L78.40,199.86 L78.65,199.50 L78.90,199.15 L79.15,198.80 L79.40,198.45 L79.65,198.11 L79.90,197.76 L80.15,197.43 L80.40,197.09 L80.65,196.76 L80.90,196.43 L81.15,196.10 L81.40,195.77 L81.65,195.45 L81.90,195.12 L82.15,194.81 L82.40,194.49 L82.65,194.17 L82.90,193.86 L83.15,193.54 L83.40,193.23 L83.65,192.93 L83.90,192.62 L84.15,192.31 L84.40,192.01 L84.65,191.71 L84.90,191.41 L85.15,191.11 L85.40,190.81 L85.65,190.51 L85.90,190.22 L86.15,189.92 L86.40,189.63 L86.65,189.34 L86.90,189.05 L87.15,188.76 L87.40,188.47 L87.65,188.18 L87.90,187.89 L88.15,187.61 L88.40,187.33 L88.65,187.04 L88.90,186.76 L89.15,186.48 L89.40,186.20 L89.65,185.92 L89.90,185.64 L90.15,185.36 L90.40,185.09 L90.65,184.81 L90.90,184.53 L91.15,184.26 L91.40,183.99 L91.65,183.71 L91.90,183.44 L92.15,183.17 L92.40,182.90 L92.65,182.63 L92.90,182.36 L93.15,182.09 L93.40,181.82 L93.65,181.56 L93.90,181.29 L94.15,181.02 L94.40,180.76 L94.65,180.49 L94.90,180.23 L95.15,179.97 L95.40,179.70 L95.65,179.44 L95.90,179.18 L96.15,178.92 L96.40,178.66 L96.65,178.40 L96.90,178.14 L97.15,177.88 L97.40,177.62 L97.65,177.36 L97.90,177.11 L98.15,176.85 L98.40,176.59 L98.65,176.34 L98.90,176.08 L99.15,175.83 L99.40,175.57 L99.65,175.32 L99.90,175.07 L100.15,174.81 L100.40,174.56 L100.65,174.31 L100.90,174.06 L101.15,173.81 L101.40,173.56 L101.65,173.31 L101.90,173.06 L102.15,172.81 L102.40,172.56 L102.65,172.31 L102.90,172.06 L103.15,171.82 L103.40,171.57 L103.65,171.32 L103.90,171.08 L104.15,170.83 L104.40,170.59 L104.65,170.34 L104.90,170.10 L105.15,169.85 L105.40,169.61 L105.65,169.37 L105.90,169.13 L106.15,168.88 L106.40,168.64 L106.65,168.40 L106.90,168.16 L107.15,167.92 L107.40,167.68 L107.65,167.44 L107.90,167.20 L108.15,166.96 L108.40,166.73 L108.65,166.49 L108.90,166.25 L109.15,166.01 L109.40,165.78 L109.65,165.54 L109.90,165.31 L110.15,165.07 L110.40,164.84 L110.65,164.60 L110.90,164.37 L111.15,164.14 L111.40,163.90 L111.65,163.67 L111.90,163.44 L112.15,163.21 L112.40,162.98 L112.65,162.75 L112.90,162.52 L113.15,162.29 L113.40,162.06 L113.65,161.83 L113.90,161.60 L114.15,161.37 L114.40,161.14 L114.65,160.92 L114.90,160.69 L115.15,160.46 L115.40,160.24 L115.65,160.01 L115.90,159.79 L116.15,159.56 L116.40,159.34 L116.65,159.12 L116.90,158.89 L117.15,158.67 L117.40,158.45 L117.65,158.23 L117.90,158.01 L118.15,157.79 L118.40,157.57 L118.65,157.35 L118.90,157.13 L119.15,156.91 L119.40,156.69 L119.65,156.47 L119.90,156.26 L120.15,156.04 L120.40,155.82 L120.65,155.61 L120.90,155.39 L121.15,155.18 L121.40,154.96 L121.65,154.75 L121.90,154.54 L122.15,154.32 L122.40,154.11 L122.65,153.90 L122.90,153.69 L123.15,153.48 L123.40,153.27 L123.65,153.06 L123.90,152.85 L124.15,152.64 L124.40,152.43 L124.65,152.23 L124.90,152.02 L125.15,151.81 L125.40,151.61 L125.65,151.40 L125.90,151.20 L126.15,150.99 L126.40,150.79 L126.65,150.58 L126.90,150.38 L127.15,150.18 L127.40,149.98 L127.65,149.78 L127.90,149.58 L128.15,149.38 L128.40,149.18 L128.65,148.98 L128.90,148.78 L129.15,148.58 L129.40,148.38 L129.65,148.19 L129.90,147.99 L130.00,147.91 L131.00,147.14 L132.00,146.37 L133.00,145.61 L134.00,144.86 L135.00,144.12 L136.00,143.39 L137.00,142.67 L138.00,141.96 L139.00,141.27 L140.00,140.58 L141.00,139.90 L142.00,139.23 L143.00,138.58 L144.00,137.93 L145.00,137.30 L146.00,136.68 L147.00,136.06 L148.00,135.46 L149.00,134.88 L150.00,134.30 L151.00,133.74 L152.00,133.18 L153.00,132.64 L154.00,132.12 L155.00,131.60 L156.00,131.10 L157.00,130.61 L158.00,130.13 L159.00,129.66 L160.00,129.21 L161.00,128.77 L162.00,128.34 L163.00,127.93 L164.00,127.53 L165.00,127.14 L166.00,126.77 L167.00,126.41 L168.00,126.06 L169.00,125.72 L170.00,125.40 L171.00,125.09 L172.00,124.80 L173.00,124.52 L174.00,124.25 L175.00,123.99 L176.00,123.75 L177.00,123.52 L178.00,123.31 L179.00,123.11 L180.00,122.92 L181.00,122.75 L182.00,122.59 L183.00,122.44 L184.00,122.31 L185.00,122.19 L186.00,122.08 L187.00,121.98 L188.00,121.90 L189.00,121.84 L190.00,121.78 L191.00,121.74 L192.00,121.71 L193.00,121.70 L194.00,121.69 L195.00,121.70 L196.00,121.73 L197.00,121.76 L198.00,121.81 L199.00,121.87 L200.00,121.95 L201.00,122.03 L202.00,122.13 L203.00,122.24 L204.00,122.37 L205.00,122.50 L206.00,122.65 L207.00,122.81 L208.00,122.99 L209.00,123.17 L210.00,123.37 L211.00,123.57 L212.00,123.79 L213.00,124.03 L214.00,124.27 L215.00,124.52 L216.00,124.79 L217.00,125.07 L218.00,125.36 L219.00,125.66 L220.00,125.97 L221.00,126.30 L222.00,126.63 L223.00,126.98 L224.00,127.34 L225.00,127.71 L226.00,128.09 L227.00,128.48 L228.00,128.88 L229.00,129.29 L230.00,129.72 L231.00,130.15 L232.00,130.60 L233.00,131.06 L234.00,131.52 L235.00,132.00 L236.00,132.49 L237.00,132.99 L238.00,133.50 L239.00,134.02 L240.00,134.56 L241.00,135.10 L242.00,135.65 L243.00,136.21 L244.00,136.79 L245.00,137.37 L246.00,137.97 L247.00,138.57 L248.00,139.18 L249.00,139.81 L250.00,140.44 L251.00,141.09 L252.00,141.74 L253.00,142.40 L254.00,143.08 L255.00,143.76 L256.00,144.45 L257.00,145.16 L258.00,145.87 L259.00,146.59 L260.00,147.32 L261.00,148.06 L262.00,148.80 L263.00,149.56 L264.00,150.33 L265.00,151.10 L266.00,151.88 L267.00,152.67 L268.00,153.47 L269.00,154.28 L270.00,155.09 L271.00,155.91 L272.00,156.74 L273.00,157.58 L274.00,158.42 L275.00,159.27 L276.00,160.13 L277.00,160.99 L278.00,161.86 L279.00,162.74 L280.00,163.62 L281.00,164.51 L282.00,165.41 L283.00,166.31 L284.00,167.21 L285.00,168.12 L286.00,169.04 L287.00,169.96 L288.00,170.88 L289.00,171.81 L290.00,172.74 L291.00,173.68 L292.00,174.62 L293.00,175.56 L294.00,176.50 L295.00,177.45 L296.00,178.40 L297.00,179.35 L298.00,180.31 L299.00,181.26 L300.00,182.22 L301.00,183.18 L302.00,184.14 L303.00,185.10 L304.00,186.06 L305.00,187.02 L306.00,187.98 L307.00,188.94 L308.00,189.90 L309.00,190.86 L310.00,191.82 L311.00,192.78 L312.00,193.73 L313.00,194.69 L314.00,195.64 L315.00,196.59 L316.00,197.54 L317.00,198.48 L318.00,199.42 L319.00,200.36 L320.00,201.30 L321.00,202.23 L322.00,203.16 L323.00,204.08 L324.00,205.00 L325.00,205.91 L326.00,206.83 L327.00,207.73 L328.00,208.63 L329.00,209.53 L330.00,210.42 L331.00,211.30 L332.00,212.18 L333.00,213.06 L334.00,213.93 L335.00,214.79 L336.00,215.64 L337.00,216.49 L338.00,217.33 L339.00,218.17 L340.00,219.00 L341.00,219.82 L342.00,220.64 L343.00,221.45 L344.00,222.25 L345.00,223.04 L346.00,223.83 L347.00,224.61 L348.00,225.38 L349.00,226.14 L350.00,226.90 L351.00,227.65 L352.00,228.39 L353.00,229.12 L354.00,229.85 L355.00,230.56 L356.00,231.27 L357.00,231.97 L358.00,232.67 L359.00,233.35 L360.00,234.03 L361.00,234.70 L362.00,235.36 L363.00,236.01 L364.00,236.65 L365.00,237.29 L366.00,237.92 L367.00,238.54 L368.00,239.15 L369.00,239.75 L370.00,240.35 L371.00,240.94 L372.00,241.52 L373.00,242.09 L374.00,242.65 L375.00,243.21 L376.00,243.75 L377.00,244.29 L378.00,244.83 L379.00,245.35 L380.00,245.87 L381.00,246.38 L382.00,246.88 L383.00,247.37 L384.00,247.86 L385.00,248.33 L386.00,248.81 L387.00,249.27 L388.00,249.73 L389.00,250.18 L390.00,250.62 L391.00,251.05 L392.00,251.48 L393.00,251.90 L394.00,252.32 L395.00,252.73 L396.00,253.13 L397.00,253.52 L398.00,253.91 L399.00,254.29 L400.00,254.66 L401.00,255.03 L402.00,255.40 L403.00,255.75 L404.00,256.10 L405.00,256.44 L406.00,256.78 L407.00,257.11 L408.00,257.44 L409.00,257.76 L410.00,258.07 L411.00,258.38 L412.00,258.69 L413.00,258.99 L414.00,259.28 L415.00,259.57 L416.00,259.85 L417.00,260.12 L418.00,260.40 L419.00,260.66 L420.00,260.93 L421.00,261.18 L422.00,261.44 L423.00,261.68 L424.00,261.93 L425.00,262.17 L426.00,262.40 L427.00,262.63 L428.00,262.85 L429.00,263.08 L430.00,263.29 L431.00,263.51 L432.00,263.71 L433.00,263.92 L434.00,264.12 L435.00,264.32 L436.00,264.51 L437.00,264.70 L438.00,264.89 L439.00,265.07 L440.00,265.25 L441.00,265.42 L442.00,265.59 L443.00,265.76 L444.00,265.93 L445.00,266.09 L446.00,266.25 L447.00,266.40 L448.00,266.56 L449.00,266.70 L450.00,266.85 L451.00,266.99 L452.00,267.14 L453.00,267.27 L454.00,267.41 L455.00,267.54 L456.00,267.67 L457.00,267.80 L458.00,267.92 L459.00,268.05 L460.00,268.16 L461.00,268.28 L462.00,268.40 L463.00,268.51 L464.00,268.62 L465.00,268.73 L466.00,268.83 L467.00,268.94 L468.00,269.04 L469.00,269.14 L470.00,269.24 L471.00,269.33 L472.00,269.43 L473.00,269.52 L474.00,269.61 L475.00,269.70 L476.00,269.78 L477.00,269.87 L478.00,269.95 L479.00,270.03 L480.00,270.11 L481.00,270.19 L482.00,270.26 L483.00,270.34 L484.00,270.41 L485.00,270.48 L486.00,270.55 L487.00,270.62 L488.00,270.69 L489.00,270.75 L490.00,270.82 L491.00,270.88 L492.00,270.94 L493.00,271.00 L494.00,271.06 L495.00,271.12 L496.00,271.18 L497.00,271.23 L498.00,271.29 L499.00,271.34 L500.00,271.39 L501.00,271.44 L502.00,271.49 L503.00,271.54 L504.00,271.59 L505.00,271.64 L506.00,271.68 L507.00,271.73 L508.00,271.77 L509.00,271.81 L510.00,271.86 L511.00,271.90 L512.00,271.94 L513.00,271.98 L514.00,272.02 L515.00,272.05 L516.00,272.09 L517.00,272.13 L518.00,272.16 L519.00,272.20 L520.00,272.23 L521.00,272.26 L522.00,272.30 L523.00,272.33 L524.00,272.36 L525.00,272.39 L526.00,272.42 L527.00,272.45 L528.00,272.48 L529.00,272.51 L530.00,272.53 L531.00,272.56 L532.00,272.59 L533.00,272.61 L534.00,272.64 L535.00,272.66 L536.00,272.69 L537.00,272.71 L538.00,272.73 L539.00,272.76 L540.00,272.78 L541.00,272.80 L542.00,272.82 L543.00,272.84 L544.00,272.86 L545.00,272.88 L546.00,272.90 L547.00,272.92 L548.00,272.94 L549.00,272.96 L550.00,272.98 L551.00,272.99 L552.00,273.01 L553.00,273.03 L554.00,273.05 L555.00,273.06 L556.00,273.08 L557.00,273.09 L558.00,273.11 L559.00,273.12 L560.00,273.14 L561.00,273.15 L562.00,273.17 L563.00,273.18 L564.00,273.19 L565.00,273.20 L566.00,273.22 L567.00,273.23 L568.00,273.24 L569.00,273.25 L570.00,273.27 L571.00,273.28 L572.00,273.29 L573.00,273.30 L574.00,273.31 L575.00,273.32 L576.00,273.33 L577.00,273.34 L578.00,273.35 L579.00,273.36 L580.00,273.37 L581.00,273.38 L582.00,273.39 L583.00,273.40 L584.00,273.41 L585.00,273.41 L586.00,273.42 L587.00,273.43 L588.00,273.44 L589.00,273.45 L590.00,273.45 L591.00,273.46 L592.00,273.47 L593.00,273.47 L594.00,273.48 L595.00,273.49 L596.00,273.50"/>
<path stroke="#bdbdbd" d="M47.30,179.39 L48.12,175.09 L48.84,171.46 L50.44,162.51 L52.36,147.58 L53.80,141.50 L54.76,142.83 L55.72,144.61 L56.20,147.58 L56.52,157.19 L56.84,170.88 L57.48,208.61 L57.96,233.91 L58.00,235.05 L58.40,244.40 L58.60,247.95 L58.70,249.34 L58.80,268.33 L58.90,273.80 L59.15,273.79 L59.40,273.67 L59.65,273.27 L59.90,272.44 L60.15,271.12 L60.40,269.34 L60.65,267.18 L60.90,264.72 L61.15,262.08 L61.40,259.34 L61.65,256.58 L61.90,253.86 L62.15,251.21 L62.40,248.67 L62.65,246.23 L62.90,243.93 L63.15,241.75 L63.40,239.69 L63.65,237.75 L63.90,235.92 L64.15,234.20 L64.40,232.58 L64.65,231.06 L64.90,229.62 L65.15,228.26 L65.40,226.97 L65.65,225.76 L65.90,224.60 L66.15,223.50 L66.40,222.46 L66.65,221.47 L66.90,220.52 L67.15,219.62 L67.40,218.75 L67.65,217.92 L67.90,217.13 L68.15,216.36 L68.40,215.63 L68.65,214.92 L68.90,214.24 L69.15,213.58 L69.40,212.95 L69.65,212.33 L69.90,211.74 L70.15,211.16 L70.40,210.60 L70.65,210.05 L70.90,209.53 L71.15,209.01 L71.40,208.51 L71.65,208.02 L71.90,207.54 L72.15,207.08 L72.40,206.62 L72.65,206.18 L72.90,205.74 L73.15,205.32 L73.40,204.90 L73.65,204.49 L73.90,204.09 L74.15,203.69 L74.40,203.31 L74.65,202.93 L74.90,202.55 L75.15,202.18 L75.40,201.82 L75.65,201.47 L75.90,201.12 L76.15,200.77 L76.40,200.43 L76.65,200.09 L76.90,199.76 L77.15,199.43 L77.40,199.11 L77.65,198.79 L77.90,198.48 L78.15,198.16 L78.40,197.86 L78.65,197.55 L78.90,197.25 L79.15,196.95 L79.40,196.66 L79.65,196.36 L79.90,196.07 L80.15,195.79 L80.40,195.50 L80.65,195.22 L80.90,194.94 L81.15,194.67 L81.40,194.39 L81.65,194.12 L81.90,193.85 L82.15,193.58 L82.40,193.32 L82.65,193.05 L82.90,192.79 L83.15,192.53 L83.40,192.28 L83.65,192.02 L83.90,191.77 L84.15,191.51 L84.40,191.26 L84.65,191.01 L84.90,190.76 L85.15,190.52 L85.40,190.27 L85.65,190.03 L85.90,189.79 L86.15,189.55 L86.40,189.31 L86.65,189.07 L86.90,188.83 L87.15,188.60 L87.40,188.36 L87.65,188.13 L87.90,187.90 L88.15,187.66 L88.40,187.43 L88.65,187.21 L88.90,186.98 L89.15,186.75 L89.40,186.53 L89.65,186.30 L89.90,186.08 L90.15,185.86 L90.40,185.63 L90.65,185.41 L90.90,185.19 L91.15,184.97 L91.40,184.76 L91.65,184.54 L91.90,184.32 L92.15,184.11 L92.40,183.89 L92.65,183.68 L92.90,183.47 L93.15,183.25 L93.40,183.04 L93.65,182.83 L93.90,182.62 L94.15,182.41 L94.40,182.20 L94.65,182.00 L94.90,181.79 L95.15,181.58 L95.40,181.38 L95.65,181.17 L95.90,180.97 L96.15,180.76 L96.40,180.56 L96.65,180.36 L96.90,180.16 L97.15,179.96 L97.40,179.76 L97.65,179.56 L97.90,179.36 L98.15,179.16 L98.40,178.96 L98.65,178.77 L98.90,178.57 L99.15,178.37 L99.40,178.18 L99.65,177.98 L99.90,177.79 L100.15,177.60 L100.40,177.40 L100.65,177.21 L100.90,177.02 L101.15,176.83 L101.40,176.64 L101.65,176.45 L101.90,176.26 L102.15,176.07 L102.40,175.88 L102.65,175.69 L102.90,175.51 L103.15,175.32 L103.40,175.13 L103.65,174.95 L103.90,174.76 L104.15,174.58 L104.40,174.39 L104.65,174.21 L104.90,174.03 L105.15,173.84 L105.40,173.66 L105.65,173.48 L105.90,173.30 L106.15,173.12 L106.40,172.94 L106.65,172.76 L106.90,172.58 L107.15,172.40 L107.40,172.23 L107.65,172.05 L107.90,171.87 L108.15,171.70 L108.40,171.52 L108.65,171.34 L108.90,171.17 L109.15,171.00 L109.40,170.82 L109.65,170.65 L109.90,170.48 L110.15,170.30 L110.40,170.13 L110.65,169.96 L110.90,169.79 L111.15,169.62 L111.40,169.45 L111.65,169.28 L111.90,169.11 L112.15,168.94 L112.40,168.77 L112.65,168.61 L112.90,168.44 L113.15,168.27 L113.40,168.11 L113.65,167.94 L113.90,167.78 L114.15,167.61 L114.40,167.45 L114.65,167.29 L114.90,167.12 L115.15,166.96 L115.40,166.80 L115.65,166.64 L115.90,166.47 L116.15,166.31 L116.40,166.15 L116.65,165.99 L116.90,165.84 L117.15,165.68 L117.40,165.52 L117.65,165.36 L117.90,165.20 L118.15,165.05 L118.40,164.89 L118.65,164.74 L118.90,164.58 L119.15,164.43 L119.40,164.27 L119.65,164.12 L119.90,163.96 L120.15,163.81 L120.40,163.66 L120.65,163.51 L120.90,163.36 L121.15,163.21 L121.40,163.05 L121.65,162.91 L121.90,162.76 L122.15,162.61 L122.40,162.46 L122.65,162.31 L122.90,162.16 L123.15,162.02 L123.40,161.87 L123.65,161.72 L123.90,161.58 L124.15,161.43 L124.40,161.29 L124.65,161.15 L124.90,161.00 L125.15,160.86 L125.40,160.72 L125.65,160.57 L125.90,160.43 L126.15,160.29 L126.40,160.15 L126.65,160.01 L126.90,159.87 L127.15,159.73 L127.40,159.59 L127.65,159.46 L127.90,159.32 L128.15,159.18 L128.40,159.05 L128.65,158.91 L128.90,158.77 L129.15,158.64 L129.40,158.50 L129.65,158.37 L129.90,158.24 L130.00,158.18 L131.00,157.66 L132.00,157.14 L133.00,156.62 L134.00,156.12 L135.00,155.63 L136.00,155.14 L137.00,154.66 L138.00,154.19 L139.00,153.73 L140.00,153.27 L141.00,152.83 L142.00,152.39 L143.00,151.96 L144.00,151.54 L145.00,151.13 L146.00,150.73 L147.00,150.33 L148.00,149.95 L149.00,149.57 L150.00,149.20 L151.00,148.84 L152.00,148.49 L153.00,148.14 L154.00,147.81 L155.00,147.48 L156.00,147.17 L157.00,146.86 L158.00,146.56 L159.00,146.27 L160.00,145.99 L161.00,145.71 L162.00,145.45 L163.00,145.19 L164.00,144.94 L165.00,144.70 L166.00,144.47 L167.00,144.25 L168.00,144.04 L169.00,143.84 L170.00,143.64 L171.00,143.45 L172.00,143.28 L173.00,143.11 L174.00,142.95 L175.00,142.79 L176.00,142.65 L177.00,142.51 L178.00,142.39 L179.00,142.27 L180.00,142.16 L181.00,142.06 L182.00,141.96 L183.00,141.88 L184.00,141.80 L185.00,141.73 L186.00,141.67 L187.00,141.62 L188.00,141.58 L189.00,141.54 L190.00,141.51 L191.00,141.49 L192.00,141.48 L193.00,141.48 L194.00,141.48 L195.00,141.49 L196.00,141.51 L197.00,141.54 L198.00,141.58 L199.00,141.62 L200.00,141.67 L201.00,141.73 L202.00,141.79 L203.00,141.87 L204.00,141.95 L205.00,142.04 L206.00,142.13 L207.00,142.23 L208.00,142.35 L209.00,142.46 L210.00,142.59 L211.00,142.72 L212.00,142.86 L213.00,143.01 L214.00,143.16 L215.00,143.32 L216.00,143.49 L217.00,143.67 L218.00,143.85 L219.00,144.04 L220.00,144.24 L221.00,144.45 L222.00,144.66 L223.00,144.88 L224.00,145.10 L225.00,145.34 L226.00,145.58 L227.00,145.83 L228.00,146.08 L229.00,146.34 L230.00,146.61 L231.00,146.89 L232.00,147.17 L233.00,147.47 L234.00,147.76 L235.00,148.07 L236.00,148.38 L237.00,148.70 L238.00,149.03 L239.00,149.36 L240.00,149.71 L241.00,150.06 L242.00,150.41 L243.00,150.78 L244.00,151.15 L245.00,151.53 L246.00,151.91 L247.00,152.31 L248.00,152.71 L249.00,153.12 L250.00,153.53 L251.00,153.96 L252.00,154.39 L253.00,154.83 L254.00,155.27 L255.00,155.73 L256.00,156.19 L257.00,156.66 L258.00,157.13 L259.00,157.61 L260.00,158.11 L261.00,158.60 L262.00,159.11 L263.00,159.62 L264.00,160.14 L265.00,160.67 L266.00,161.21 L267.00,161.75 L268.00,162.30 L269.00,162.86 L270.00,163.42 L271.00,163.99 L272.00,164.57 L273.00,165.16 L274.00,165.75 L275.00,166.35 L276.00,166.96 L277.00,167.57 L278.00,168.20 L279.00,168.82 L280.00,169.46 L281.00,170.10 L282.00,170.75 L283.00,171.40 L284.00,172.06 L285.00,172.73 L286.00,173.40 L287.00,174.08 L288.00,174.76 L289.00,175.45 L290.00,176.15 L291.00,176.85 L292.00,177.56 L293.00,178.27 L294.00,178.99 L295.00,179.71 L296.00,180.44 L297.00,181.17 L298.00,181.91 L299.00,182.65 L300.00,183.39 L301.00,184.14 L302.00,184.90 L303.00,185.65 L304.00,186.42 L305.00,187.18 L306.00,187.95 L307.00,188.72 L308.00,189.49 L309.00,190.27 L310.00,191.05 L311.00,191.83 L312.00,192.62 L313.00,193.40 L314.00,194.19 L315.00,194.98 L316.00,195.77 L317.00,196.57 L318.00,197.36 L319.00,198.16 L320.00,198.95 L321.00,199.75 L322.00,200.54 L323.00,201.34 L324.00,202.14 L325.00,202.93 L326.00,203.73 L327.00,204.52 L328.00,205.31 L329.00,206.11 L330.00,206.90 L331.00,207.69 L332.00,208.48 L333.00,209.26 L334.00,210.05 L335.00,210.83 L336.00,211.61 L337.00,212.39 L338.00,213.16 L339.00,213.94 L340.00,214.71 L341.00,215.47 L342.00,216.23 L343.00,216.99 L344.00,217.75 L345.00,218.50 L346.00,219.25 L347.00,219.99 L348.00,220.73 L349.00,221.46 L350.00,222.19 L351.00,222.92 L352.00,223.64 L353.00,224.35 L354.00,225.07 L355.00,225.77 L356.00,226.47 L357.00,227.17 L358.00,227.85 L359.00,228.54 L360.00,229.22 L361.00,229.89 L362.00,230.55 L363.00,231.21 L364.00,231.87 L365.00,232.52 L366.00,233.16 L367.00,233.79 L368.00,234.42 L369.00,235.05 L370.00,235.66 L371.00,236.28 L372.00,236.88 L373.00,237.48 L374.00,238.07 L375.00,238.65 L376.00,239.23 L377.00,239.80 L378.00,240.37 L379.00,240.92 L380.00,241.48 L381.00,242.02 L382.00,242.56 L383.00,243.09 L384.00,243.61 L385.00,244.13 L386.00,244.64 L387.00,245.15 L388.00,245.64 L389.00,246.14 L390.00,246.62 L391.00,247.10 L392.00,247.57 L393.00,248.04 L394.00,248.49 L395.00,248.95 L396.00,249.39 L397.00,249.83 L398.00,250.26 L399.00,250.69 L400.00,251.11 L401.00,251.52 L402.00,251.93 L403.00,252.33 L404.00,252.73 L405.00,253.12 L406.00,253.50 L407.00,253.88 L408.00,254.25 L409.00,254.61 L410.00,254.97 L411.00,255.32 L412.00,255.67 L413.00,256.01 L414.00,256.35 L415.00,256.68 L416.00,257.01 L417.00,257.33 L418.00,257.64 L419.00,257.95 L420.00,258.26 L421.00,258.56 L422.00,258.85 L423.00,259.14 L424.00,259.42 L425.00,259.70 L426.00,259.98 L427.00,260.25 L428.00,260.51 L429.00,260.77 L430.00,261.03 L431.00,261.28 L432.00,261.52 L433.00,261.77 L434.00,262.00 L435.00,262.24 L436.00,262.47 L437.00,262.69 L438.00,262.91 L439.00,263.13 L440.00,263.34 L441.00,263.55 L442.00,263.76 L443.00,263.96 L444.00,264.15 L445.00,264.35 L446.00,264.54 L447.00,264.73 L448.00,264.91 L449.00,265.09 L450.00,265.26 L451.00,265.44 L452.00,265.61 L453.00,265.77 L454.00,265.94 L455.00,266.10 L456.00,266.25 L457.00,266.41 L458.00,266.56 L459.00,266.71 L460.00,266.85 L461.00,266.99 L462.00,267.13 L463.00,267.27 L464.00,267.40 L465.00,267.53 L466.00,267.66 L467.00,267.79 L468.00,267.91 L469.00,268.03 L470.00,268.15 L471.00,268.27 L472.00,268.38 L473.00,268.50 L474.00,268.61 L475.00,268.71 L476.00,268.82 L477.00,268.92 L478.00,269.02 L479.00,269.12 L480.00,269.22 L481.00,269.32 L482.00,269.41 L483.00,269.50 L484.00,269.59 L485.00,269.68 L486.00,269.76 L487.00,269.85 L488.00,269.93 L489.00,270.01 L490.00,270.09 L491.00,270.17 L492.00,270.24 L493.00,270.32 L494.00,270.39 L495.00,270.46 L496.00,270.53 L497.00,270.60 L498.00,270.67 L499.00,270.73 L500.00,270.80 L501.00,270.86 L502.00,270.92 L503.00,270.98 L504.00,271.04 L505.00,271.10 L506.00,271.16 L507.00,271.21 L508.00,271.27 L509.00,271.32 L510.00,271.37 L511.00,271.43 L512.00,271.48 L513.00,271.52 L514.00,271.57 L515.00,271.62 L516.00,271.67 L517.00,271.71 L518.00,271.75 L519.00,271.80 L520.00,271.84 L521.00,271.88 L522.00,271.92 L523.00,271.96 L524.00,272.00 L525.00,272.04 L526.00,272.08 L527.00,272.11 L528.00,272.15 L529.00,272.18 L530.00,272.22 L531.00,272.25 L532.00,272.28 L533.00,272.32 L534.00,272.35 L535.00,272.38 L536.00,272.41 L537.00,272.44 L538.00,272.47 L539.00,272.50 L540.00,272.52 L541.00,272.55 L542.00,272.58 L543.00,272.60 L544.00,272.63 L545.00,272.65 L546.00,272.68 L547.00,272.70 L548.00,272.72 L549.00,272.75 L550.00,272.77 L551.00,272.79 L552.00,272.81 L553.00,272.83 L554.00,272.86 L555.00,272.88 L556.00,272.89 L557.00,272.91 L558.00,272.93 L559.00,272.95 L560.00,272.97 L561.00,272.99 L562.00,273.00 L563.00,273.02 L564.00,273.04 L565.00,273.05 L566.00,273.07 L567.00,273.09 L568.00,273.10 L569.00,273.12 L570.00,273.13 L571.00,273.14 L572.00,273.16 L573.00,273.17 L574.00,273.19 L575.00,273.20 L576.00,273.21 L577.00,273.22 L578.00,273.24 L579.00,273.25 L580.00,273.26 L581.00,273.27 L582.00,273.28 L583.00,273.29 L584.00,273.30 L585.00,273.32 L586.00,273.33 L587.00,273.34 L588.00,273.35 L589.00,273.36 L590.00,273.36 L591.00,273.37 L592.00,273.38 L593.00,273.39 L594.00,273.40 L595.00,273.41 L596.00,273.42"/>
<path stroke="#cccccc" d="M47.30,186.21 L48.43,181.31 L49.06,178.74 L50.46,172.60 L52.14,162.91 L53.40,159.14 L54.54,159.96 L55.68,161.05 L56.25,162.91 L56.63,169.07 L57.01,178.33 L57.77,207.33 L58.00,217.79 L58.34,230.22 L58.40,231.62 L58.70,237.82 L58.80,267.18 L58.90,273.80 L59.15,273.79 L59.40,273.64 L59.65,273.15 L59.90,272.15 L60.15,270.57 L60.40,268.46 L60.65,265.91 L60.90,263.06 L61.15,260.04 L61.40,256.96 L61.65,253.91 L61.90,250.94 L62.15,248.10 L62.40,245.40 L62.65,242.86 L62.90,240.49 L63.15,238.27 L63.40,236.20 L63.65,234.27 L63.90,232.47 L64.15,230.79 L64.40,229.23 L64.65,227.77 L64.90,226.40 L65.15,225.11 L65.40,223.91 L65.65,222.78 L65.90,221.71 L66.15,220.70 L66.40,219.75 L66.65,218.84 L66.90,217.99 L67.15,217.17 L67.40,216.40 L67.65,215.66 L67.90,214.95 L68.15,214.28 L68.40,213.63 L68.65,213.01 L68.90,212.41 L69.15,211.84 L69.40,211.29 L69.65,210.75 L69.90,210.24 L70.15,209.74 L70.40,209.26 L70.65,208.79 L70.90,208.34 L71.15,207.90 L71.40,207.48 L71.65,207.06 L71.90,206.66 L72.15,206.27 L72.40,205.88 L72.65,205.51 L72.90,205.15 L73.15,204.79 L73.40,204.44 L73.65,204.10 L73.90,203.77 L74.15,203.44 L74.40,203.12 L74.65,202.81 L74.90,202.50 L75.15,202.20 L75.40,201.90 L75.65,201.61 L75.90,201.32 L76.15,201.04 L76.40,200.76 L76.65,200.49 L76.90,200.22 L77.15,199.95 L77.40,199.69 L77.65,199.43 L77.90,199.18 L78.15,198.93 L78.40,198.68 L78.65,198.44 L78.90,198.19 L79.15,197.96 L79.40,197.72 L79.65,197.49 L79.90,197.26 L80.15,197.03 L80.40,196.80 L80.65,196.58 L80.90,196.36 L81.15,196.14 L81.40,195.92 L81.65,195.71 L81.90,195.49 L82.15,195.28 L82.40,195.07 L82.65,194.87 L82.90,194.66 L83.15,194.46 L83.40,194.26 L83.65,194.06 L83.90,193.86 L84.15,193.66 L84.40,193.47 L84.65,193.27 L84.90,193.08 L85.15,192.89 L85.40,192.70 L85.65,192.51 L85.90,192.32 L86.15,192.14 L86.40,191.95 L86.65,191.77 L86.90,191.59 L87.15,191.41 L87.40,191.23 L87.65,191.05 L87.90,190.87 L88.15,190.69 L88.40,190.52 L88.65,190.34 L88.90,190.17 L89.15,190.00 L89.40,189.82 L89.65,189.65 L89.90,189.48 L90.15,189.32 L90.40,189.15 L90.65,188.98 L90.90,188.81 L91.15,188.65 L91.40,188.48 L91.65,188.32 L91.90,188.16 L92.15,188.00 L92.40,187.83 L92.65,187.67 L92.90,187.51 L93.15,187.36 L93.40,187.20 L93.65,187.04 L93.90,186.88 L94.15,186.73 L94.40,186.57 L94.65,186.42 L94.90,186.26 L95.15,186.11 L95.40,185.96 L95.65,185.81 L95.90,185.66 L96.15,185.51 L96.40,185.36 L96.65,185.21 L96.90,185.06 L97.15,184.91 L97.40,184.76 L97.65,184.62 L97.90,184.47 L98.15,184.32 L98.40,184.18 L98.65,184.03 L98.90,183.89 L99.15,183.75 L99.40,183.61 L99.65,183.46 L99.90,183.32 L100.15,183.18 L100.40,183.04 L100.65,182.90 L100.90,182.76 L101.15,182.62 L101.40,182.48 L101.65,182.35 L101.90,182.21 L102.15,182.07 L102.40,181.94 L102.65,181.80 L102.90,181.67 L103.15,181.53 L103.40,181.40 L103.65,181.26 L103.90,181.13 L104.15,181.00 L104.40,180.87 L104.65,180.74 L104.90,180.60 L105.15,180.47 L105.40,180.34 L105.65,180.21 L105.90,180.09 L106.15,179.96 L106.40,179.83 L106.65,179.70 L106.90,179.57 L107.15,179.45 L107.40,179.32 L107.65,179.20 L107.90,179.07 L108.15,178.95 L108.40,178.82 L108.65,178.70 L108.90,178.57 L109.15,178.45 L109.40,178.33 L109.65,178.21 L109.90,178.08 L110.15,177.96 L110.40,177.84 L110.65,177.72 L110.90,177.60 L111.15,177.48 L111.40,177.36 L111.65,177.25 L111.90,177.13 L112.15,177.01 L112.40,176.89 L112.65,176.78 L112.90,176.66 L113.15,176.54 L113.40,176.43 L113.65,176.31 L113.90,176.20 L114.15,176.08 L114.40,175.97 L114.65,175.86 L114.90,175.74 L115.15,175.63 L115.40,175.52 L115.65,175.41 L115.90,175.30 L116.15,175.19 L116.40,175.08 L116.65,174.97 L116.90,174.86 L117.15,174.75 L117.40,174.64 L117.65,174.53 L117.90,174.42 L118.15,174.32 L118.40,174.21 L118.65,174.10 L118.90,174.00 L119.15,173.89 L119.40,173.78 L119.65,173.68 L119.90,173.58 L120.15,173.47 L120.40,173.37 L120.65,173.26 L120.90,173.16 L121.15,173.06 L121.40,172.96 L121.65,172.85 L121.90,172.75 L122.15,172.65 L122.40,172.55 L122.65,172.45 L122.90,172.35 L123.15,172.25 L123.40,172.15 L123.65,172.06 L123.90,171.96 L124.15,171.86 L124.40,171.76 L124.65,171.67 L124.90,171.57 L125.15,171.47 L125.40,171.38 L125.65,171.28 L125.90,171.19 L126.15,171.09 L126.40,171.00 L126.65,170.91 L126.90,170.81 L127.15,170.72 L127.40,170.63 L127.65,170.54 L127.90,170.44 L128.15,170.35 L128.40,170.26 L128.65,170.17 L128.90,170.08 L129.15,169.99 L129.40,169.90 L129.65,169.81 L129.90,169.72 L130.00,169.69 L131.00,169.34 L132.00,169.00 L133.00,168.66 L134.00,168.33 L135.00,168.00 L136.00,167.68 L137.00,167.37 L138.00,167.07 L139.00,166.77 L140.00,166.47 L141.00,166.18 L142.00,165.90 L143.00,165.63 L144.00,165.36 L145.00,165.09 L146.00,164.83 L147.00,164.58 L148.00,164.34 L149.00,164.10 L150.00,163.86 L151.00,163.64 L152.00,163.41 L153.00,163.20 L154.00,162.99 L155.00,162.78 L156.00,162.58 L157.00,162.39 L158.00,162.21 L159.00,162.02 L160.00,161.85 L161.00,161.68 L162.00,161.52 L163.00,161.36 L164.00,161.20 L165.00,161.06 L166.00,160.92 L167.00,160.78 L168.00,160.65 L169.00,160.53 L170.00,160.41 L171.00,160.29 L172.00,160.19 L173.00,160.08 L174.00,159.99 L175.00,159.89 L176.00,159.81 L177.00,159.73 L178.00,159.65 L179.00,159.58 L180.00,159.52 L181.00,159.46 L182.00,159.40 L183.00,159.35 L184.00,159.31 L185.00,159.27 L186.00,159.23 L187.00,159.20 L188.00,159.18 L189.00,159.16 L190.00,159.15 L191.00,159.14 L192.00,159.13 L193.00,159.13 L194.00,159.14 L195.00,159.15 L196.00,159.16 L197.00,159.18 L198.00,159.21 L199.00,159.24 L200.00,159.27 L201.00,159.31 L202.00,159.35 L203.00,159.40 L204.00,159.45 L205.00,159.51 L206.00,159.57 L207.00,159.64 L208.00,159.71 L209.00,159.79 L210.00,159.87 L211.00,159.95 L212.00,160.04 L213.00,160.13 L214.00,160.23 L215.00,160.33 L216.00,160.44 L217.00,160.55 L218.00,160.67 L219.00,160.79 L220.00,160.91 L221.00,161.04 L222.00,161.18 L223.00,161.32 L224.00,161.46 L225.00,161.61 L226.00,161.76 L227.00,161.92 L228.00,162.08 L229.00,162.24 L230.00,162.41 L231.00,162.59 L232.00,162.77 L233.00,162.95 L234.00,163.14 L235.00,163.34 L236.00,163.54 L237.00,163.74 L238.00,163.95 L239.00,164.16 L240.00,164.38 L241.00,164.61 L242.00,164.83 L243.00,165.07 L244.00,165.31 L245.00,165.55 L246.00,165.80 L247.00,166.05 L248.00,166.31 L249.00,166.58 L250.00,166.85 L251.00,167.12 L252.00,167.40 L253.00,167.69 L254.00,167.98 L255.00,168.27 L256.00,168.58 L257.00,168.88 L258.00,169.20 L259.00,169.51 L260.00,169.84 L261.00,170.17 L262.00,170.50 L263.00,170.84 L264.00,171.19 L265.00,171.54 L266.00,171.90 L267.00,172.26 L268.00,172.63 L269.00,173.01 L270.00,173.39 L271.00,173.78 L272.00,174.17 L273.00,174.57 L274.00,174.97 L275.00,175.38 L276.00,175.80 L277.00,176.22 L278.00,176.65 L279.00,177.08 L280.00,177.52 L281.00,177.97 L282.00,178.42 L283.00,178.88 L284.00,179.34 L285.00,179.81 L286.00,180.28 L287.00,180.76 L288.00,181.25 L289.00,181.74 L290.00,182.24 L291.00,182.74 L292.00,183.25 L293.00,183.77 L294.00,184.29 L295.00,184.81 L296.00,185.34 L297.00,185.88 L298.00,186.42 L299.00,186.97 L300.00,187.52 L301.00,188.08 L302.00,188.64 L303.00,189.21 L304.00,189.78 L305.00,190.35 L306.00,190.94 L307.00,191.52 L308.00,192.11 L309.00,192.71 L310.00,193.31 L311.00,193.91 L312.00,194.52 L313.00,195.13 L314.00,195.74 L315.00,196.36 L316.00,196.98 L317.00,197.61 L318.00,198.24 L319.00,198.87 L320.00,199.51 L321.00,200.15 L322.00,200.79 L323.00,201.43 L324.00,202.08 L325.00,202.73 L326.00,203.38 L327.00,204.04 L328.00,204.69 L329.00,205.35 L330.00,206.01 L331.00,206.67 L332.00,207.33 L333.00,207.99 L334.00,208.66 L335.00,209.32 L336.00,209.99 L337.00,210.66 L338.00,211.32 L339.00,211.99 L340.00,212.66 L341.00,213.33 L342.00,213.99 L343.00,214.66 L344.00,215.33 L345.00,215.99 L346.00,216.66 L347.00,217.32 L348.00,217.98 L349.00,218.65 L350.00,219.31 L351.00,219.96 L352.00,220.62 L353.00,221.27 L354.00,221.93 L355.00,222.58 L356.00,223.22 L357.00,223.87 L358.00,224.51 L359.00,225.15 L360.00,225.79 L361.00,226.42 L362.00,227.05 L363.00,227.68 L364.00,228.31 L365.00,228.93 L366.00,229.54 L367.00,230.16 L368.00,230.77 L369.00,231.37 L370.00,231.97 L371.00,232.57 L372.00,233.16 L373.00,233.75 L374.00,234.34 L375.00,234.92 L376.00,235.49 L377.00,236.06 L378.00,236.63 L379.00,237.19 L380.00,237.74 L381.00,238.29 L382.00,238.84 L383.00,239.38 L384.00,239.92 L385.00,240.45 L386.00,240.97 L387.00,241.49 L388.00,242.01 L389.00,242.52 L390.00,243.02 L391.00,243.52 L392.00,244.01 L393.00,244.50 L394.00,244.98 L395.00,245.46 L396.00,245.93 L397.00,246.39 L398.00,246.85 L399.00,247.30 L400.00,247.75 L401.00,248.20 L402.00,248.63 L403.00,249.06 L404.00,249.49 L405.00,249.91 L406.00,250.33 L407.00,250.74 L408.00,251.14 L409.00,251.54 L410.00,251.93 L411.00,252.32 L412.00,252.70 L413.00,253.08 L414.00,253.45 L415.00,253.81 L416.00,254.17 L417.00,254.53 L418.00,254.88 L419.00,255.22 L420.00,255.56 L421.00,255.90 L422.00,256.23 L423.00,256.55 L424.00,256.87 L425.00,257.18 L426.00,257.49 L427.00,257.80 L428.00,258.10 L429.00,258.39 L430.00,258.68 L431.00,258.97 L432.00,259.25 L433.00,259.52 L434.00,259.80 L435.00,260.06 L436.00,260.33 L437.00,260.58 L438.00,260.84 L439.00,261.09 L440.00,261.33 L441.00,261.57 L442.00,261.81 L443.00,262.04 L444.00,262.27 L445.00,262.50 L446.00,262.72 L447.00,262.93 L448.00,263.15 L449.00,263.35 L450.00,263.56 L451.00,263.76 L452.00,263.96 L453.00,264.15 L454.00,264.35 L455.00,264.53 L456.00,264.72 L457.00,264.90 L458.00,265.08 L459.00,265.25 L460.00,265.42 L461.00,265.59 L462.00,265.75 L463.00,265.91 L464.00,266.07 L465.00,266.23 L466.00,266.38 L467.00,266.53 L468.00,266.68 L469.00,266.82 L470.00,266.96 L471.00,267.10 L472.00,267.24 L473.00,267.37 L474.00,267.50 L475.00,267.63 L476.00,267.76 L477.00,267.88 L478.00,268.00 L479.00,268.12 L480.00,268.24 L481.00,268.35 L482.00,268.46 L483.00,268.57 L484.00,268.68 L485.00,268.78 L486.00,268.89 L487.00,268.99 L488.00,269.09 L489.00,269.18 L490.00,269.28 L491.00,269.37 L492.00,269.46 L493.00,269.55 L494.00,269.64 L495.00,269.73 L496.00,269.81 L497.00,269.90 L498.00,269.98 L499.00,270.06 L500.00,270.13 L501.00,270.21 L502.00,270.29 L503.00,270.36 L504.00,270.43 L505.00,270.50 L506.00,270.57 L507.00,270.64 L508.00,270.70 L509.00,270.77 L510.00,270.83 L511.00,270.89 L512.00,270.95 L513.00,271.01 L514.00,271.07 L515.00,271.13 L516.00,271.19 L517.00,271.24 L518.00,271.29 L519.00,271.35 L520.00,271.40 L521.00,271.45 L522.00,271.50 L523.00,271.55 L524.00,271.59 L525.00,271.64 L526.00,271.69 L527.00,271.73 L528.00,271.77 L529.00,271.82 L530.00,271.86 L531.00,271.90 L532.00,271.94 L533.00,271.98 L534.00,272.02 L535.00,272.05 L536.00,272.09 L537.00,272.13 L538.00,272.16 L539.00,272.20 L540.00,272.23 L541.00,272.26 L542.00,272.30 L543.00,272.33 L544.00,272.36 L545.00,272.39 L546.00,272.42 L547.00,272.45 L548.00,272.48 L549.00,272.51 L550.00,272.53 L551.00,272.56 L552.00,272.59 L553.00,272.61 L554.00,272.64 L555.00,272.66 L556.00,272.69 L557.00,272.71 L558.00,272.73 L559.00,272.76 L560.00,272.78 L561.00,272.80 L562.00,272.82 L563.00,272.84 L564.00,272.86 L565.00,272.88 L566.00,272.90 L567.00,272.92 L568.00,272.94 L569.00,272.96 L570.00,272.98 L571.00,272.99 L572.00,273.01 L573.00,273.03 L574.00,273.04 L575.00,273.06 L576.00,273.08 L577.00,273.09 L578.00,273.11 L579.00,273.12 L580.00,273.14 L581.00,273.15 L582.00,273.16 L583.00,273.18 L584.00,273.19 L585.00,273.20 L586.00,273.22 L587.00,273.23 L588.00,273.24 L589.00,273.25 L590.00,273.26 L591.00,273.28 L592.00,273.29 L593.00,273.30 L594.00,273.31 L595.00,273.32 L596.00,273.33"/>
<path stroke="#d9d9d9" d="M47.30,192.91 L48.38,189.43 L48.97,187.70 L50.27,183.66 L51.83,177.56 L53.00,175.27 L54.26,175.77 L55.52,176.43 L56.15,177.56 L56.57,181.40 L56.99,187.43 L57.83,208.44 L58.00,214.22 L58.40,226.22 L58.46,227.80 L58.70,233.21 L58.80,265.87 L58.90,273.80 L59.15,273.79 L59.40,273.61 L59.65,273.02 L59.90,271.81 L60.15,269.94 L60.40,267.45 L60.65,264.50 L60.90,261.26 L61.15,257.90 L61.40,254.54 L61.65,251.27 L61.90,248.16 L62.15,245.24 L62.40,242.52 L62.65,240.00 L62.90,237.68 L63.15,235.54 L63.40,233.58 L63.65,231.77 L63.90,230.10 L64.15,228.56 L64.40,227.14 L64.65,225.83 L64.90,224.61 L65.15,223.48 L65.40,222.42 L65.65,221.43 L65.90,220.51 L66.15,219.64 L66.40,218.83 L66.65,218.06 L66.90,217.33 L67.15,216.65 L67.40,216.00 L67.65,215.38 L67.90,214.80 L68.15,214.24 L68.40,213.70 L68.65,213.19 L68.90,212.71 L69.15,212.24 L69.40,211.79 L69.65,211.36 L69.90,210.94 L70.15,210.54 L70.40,210.16 L70.65,209.79 L70.90,209.43 L71.15,209.08 L71.40,208.74 L71.65,208.41 L71.90,208.09 L72.15,207.78 L72.40,207.48 L72.65,207.19 L72.90,206.90 L73.15,206.63 L73.40,206.35 L73.65,206.09 L73.90,205.83 L74.15,205.58 L74.40,205.33 L74.65,205.09 L74.90,204.85 L75.15,204.62 L75.40,204.39 L75.65,204.17 L75.90,203.95 L76.15,203.73 L76.40,203.52 L76.65,203.31 L76.90,203.10 L77.15,202.90 L77.40,202.70 L77.65,202.51 L77.90,202.32 L78.15,202.13 L78.40,201.94 L78.65,201.76 L78.90,201.57 L79.15,201.40 L79.40,201.22 L79.65,201.04 L79.90,200.87 L80.15,200.70 L80.40,200.53 L80.65,200.37 L80.90,200.20 L81.15,200.04 L81.40,199.88 L81.65,199.72 L81.90,199.56 L82.15,199.41 L82.40,199.25 L82.65,199.10 L82.90,198.95 L83.15,198.80 L83.40,198.65 L83.65,198.50 L83.90,198.36 L84.15,198.21 L84.40,198.07 L84.65,197.93 L84.90,197.79 L85.15,197.65 L85.40,197.51 L85.65,197.37 L85.90,197.24 L86.15,197.10 L86.40,196.97 L86.65,196.83 L86.90,196.70 L87.15,196.57 L87.40,196.44 L87.65,196.31 L87.90,196.18 L88.15,196.06 L88.40,195.93 L88.65,195.80 L88.90,195.68 L89.15,195.56 L89.40,195.43 L89.65,195.31 L89.90,195.19 L90.15,195.07 L90.40,194.95 L90.65,194.83 L90.90,194.71 L91.15,194.59 L91.40,194.48 L91.65,194.36 L91.90,194.24 L92.15,194.13 L92.40,194.01 L92.65,193.90 L92.90,193.79 L93.15,193.68 L93.40,193.56 L93.65,193.45 L93.90,193.34 L94.15,193.23 L94.40,193.12 L94.65,193.01 L94.90,192.91 L95.15,192.80 L95.40,192.69 L95.65,192.59 L95.90,192.48 L96.15,192.37 L96.40,192.27 L96.65,192.17 L96.90,192.06 L97.15,191.96 L97.40,191.86 L97.65,191.75 L97.90,191.65 L98.15,191.55 L98.40,191.45 L98.65,191.35 L98.90,191.25 L99.15,191.15 L99.40,191.05 L99.65,190.95 L99.90,190.86 L100.15,190.76 L100.40,190.66 L100.65,190.57 L100.90,190.47 L101.15,190.37 L101.40,190.28 L101.65,190.18 L101.90,190.09 L102.15,190.00 L102.40,189.90 L102.65,189.81 L102.90,189.72 L103.15,189.63 L103.40,189.53 L103.65,189.44 L103.90,189.35 L104.15,189.26 L104.40,189.17 L104.65,189.08 L104.90,188.99 L105.15,188.90 L105.40,188.82 L105.65,188.73 L105.90,188.64 L106.15,188.55 L106.40,188.47 L106.65,188.38 L106.90,188.29 L107.15,188.21 L107.40,188.12 L107.65,188.04 L107.90,187.95 L108.15,187.87 L108.40,187.79 L108.65,187.70 L108.90,187.62 L109.15,187.54 L109.40,187.45 L109.65,187.37 L109.90,187.29 L110.15,187.21 L110.40,187.13 L110.65,187.05 L110.90,186.97 L111.15,186.89 L111.40,186.81 L111.65,186.73 L111.90,186.65 L112.15,186.57 L112.40,186.49 L112.65,186.41 L112.90,186.34 L113.15,186.26 L113.40,186.18 L113.65,186.11 L113.90,186.03 L114.15,185.95 L114.40,185.88 L114.65,185.80 L114.90,185.73 L115.15,185.65 L115.40,185.58 L115.65,185.51 L115.90,185.43 L116.15,185.36 L116.40,185.29 L116.65,185.21 L116.90,185.14 L117.15,185.07 L117.40,185.00 L117.65,184.93 L117.90,184.86 L118.15,184.79 L118.40,184.72 L118.65,184.65 L118.90,184.58 L119.15,184.51 L119.40,184.44 L119.65,184.37 L119.90,184.30 L120.15,184.23 L120.40,184.16 L120.65,184.10 L120.90,184.03 L121.15,183.96 L121.40,183.90 L121.65,183.83 L121.90,183.76 L122.15,183.70 L122.40,183.63 L122.65,183.57 L122.90,183.50 L123.15,183.44 L123.40,183.37 L123.65,183.31 L123.90,183.25 L124.15,183.18 L124.40,183.12 L124.65,183.06 L124.90,183.00 L125.15,182.93 L125.40,182.87 L125.65,182.81 L125.90,182.75 L126.15,182.69 L126.40,182.63 L126.65,182.57 L126.90,182.51 L127.15,182.45 L127.40,182.39 L127.65,182.33 L127.90,182.27 L128.15,182.21 L128.40,182.15 L128.65,182.09 L128.90,182.04 L129.15,181.98 L129.40,181.92 L129.65,181.86 L129.90,181.81 L130.00,181.78 L131.00,181.56 L132.00,181.34 L133.00,181.13 L134.00,180.92 L135.00,180.71 L136.00,180.51 L137.00,180.31 L138.00,180.12 L139.00,179.93 L140.00,179.74 L141.00,179.56 L142.00,179.39 L143.00,179.21 L144.00,179.04 L145.00,178.88 L146.00,178.72 L147.00,178.56 L148.00,178.41 L149.00,178.26 L150.00,178.12 L151.00,177.98 L152.00,177.84 L153.00,177.71 L154.00,177.58 L155.00,177.45 L156.00,177.33 L157.00,177.21 L158.00,177.10 L159.00,176.99 L160.00,176.88 L161.00,176.78 L162.00,176.68 L163.00,176.58 L164.00,176.49 L165.00,176.40 L166.00,176.32 L167.00,176.23 L168.00,176.16 L169.00,176.08 L170.00,176.01 L171.00,175.94 L172.00,175.88 L173.00,175.82 L174.00,175.76 L175.00,175.70 L176.00,175.65 L177.00,175.61 L178.00,175.56 L179.00,175.52 L180.00,175.48 L181.00,175.45 L182.00,175.41 L183.00,175.39 L184.00,175.36 L185.00,175.34 L186.00,175.32 L187.00,175.30 L188.00,175.29 L189.00,175.28 L190.00,175.27 L191.00,175.27 L192.00,175.27 L193.00,175.27 L194.00,175.27 L195.00,175.28 L196.00,175.29 L197.00,175.31 L198.00,175.32 L199.00,175.34 L200.00,175.36 L201.00,175.39 L202.00,175.42 L203.00,175.45 L204.00,175.48 L205.00,175.52 L206.00,175.56 L207.00,175.60 L208.00,175.64 L209.00,175.69 L210.00,175.74 L211.00,175.79 L212.00,175.85 L213.00,175.91 L214.00,175.97 L215.00,176.03 L216.00,176.10 L217.00,176.17 L218.00,176.24 L219.00,176.32 L220.00,176.39 L221.00,176.47 L222.00,176.56 L223.00,176.64 L224.00,176.73 L225.00,176.82 L226.00,176.92 L227.00,177.02 L228.00,177.12 L229.00,177.22 L230.00,177.32 L231.00,177.43 L232.00,177.55 L233.00,177.66 L234.00,177.78 L235.00,177.90 L236.00,178.02 L237.00,178.15 L238.00,178.28 L239.00,178.41 L240.00,178.55 L241.00,178.69 L242.00,178.83 L243.00,178.98 L244.00,179.13 L245.00,179.28 L246.00,179.44 L247.00,179.60 L248.00,179.76 L249.00,179.93 L250.00,180.10 L251.00,180.27 L252.00,180.45 L253.00,180.63 L254.00,180.82 L255.00,181.00 L256.00,181.20 L257.00,181.39 L258.00,181.59 L259.00,181.79 L260.00,182.00 L261.00,182.21 L262.00,182.43 L263.00,182.65 L264.00,182.87 L265.00,183.10 L266.00,183.33 L267.00,183.56 L268.00,183.80 L269.00,184.05 L270.00,184.29 L271.00,184.55 L272.00,184.80 L273.00,185.06 L274.00,185.33 L275.00,185.60 L276.00,185.87 L277.00,186.15 L278.00,186.44 L279.00,186.72 L280.00,187.02 L281.00,187.31 L282.00,187.61 L283.00,187.92 L284.00,188.23 L285.00,188.55 L286.00,188.87 L287.00,189.19 L288.00,189.52 L289.00,189.86 L290.00,190.19 L291.00,190.54 L292.00,190.89 L293.00,191.24 L294.00,191.60 L295.00,191.96 L296.00,192.33 L297.00,192.70 L298.00,193.08 L299.00,193.46 L300.00,193.85 L301.00,194.24 L302.00,194.64 L303.00,195.04 L304.00,195.44 L305.00,195.86 L306.00,196.27 L307.00,196.69 L308.00,197.12 L309.00,197.54 L310.00,197.98 L311.00,198.42 L312.00,198.86 L313.00,199.31 L314.00,199.76 L315.00,200.21 L316.00,200.67 L317.00,201.14 L318.00,201.61 L319.00,202.08 L320.00,202.56 L321.00,203.04 L322.00,203.52 L323.00,204.01 L324.00,204.50 L325.00,205.00 L326.00,205.50 L327.00,206.00 L328.00,206.51 L329.00,207.02 L330.00,207.53 L331.00,208.05 L332.00,208.57 L333.00,209.09 L334.00,209.62 L335.00,210.15 L336.00,210.68 L337.00,211.21 L338.00,211.75 L339.00,212.29 L340.00,212.83 L341.00,213.37 L342.00,213.92 L343.00,214.46 L344.00,215.01 L345.00,215.56 L346.00,216.11 L347.00,216.67 L348.00,217.22 L349.00,217.78 L350.00,218.33 L351.00,218.89 L352.00,219.45 L353.00,220.01 L354.00,220.57 L355.00,221.13 L356.00,221.69 L357.00,222.25 L358.00,222.81 L359.00,223.37 L360.00,223.93 L361.00,224.49 L362.00,225.05 L363.00,225.61 L364.00,226.16 L365.00,226.72 L366.00,227.27 L367.00,227.83 L368.00,228.38 L369.00,228.93 L370.00,229.48 L371.00,230.03 L372.00,230.58 L373.00,231.12 L374.00,231.66 L375.00,232.20 L376.00,232.74 L377.00,233.28 L378.00,233.81 L379.00,234.34 L380.00,234.87 L381.00,235.39 L382.00,235.91 L383.00,236.43 L384.00,236.95 L385.00,237.46 L386.00,237.97 L387.00,238.48 L388.00,238.98 L389.00,239.48 L390.00,239.97 L391.00,240.46 L392.00,240.95 L393.00,241.43 L394.00,241.91 L395.00,242.39 L396.00,242.86 L397.00,243.33 L398.00,243.79 L399.00,244.25 L400.00,244.71 L401.00,245.16 L402.00,245.61 L403.00,246.05 L404.00,246.49 L405.00,246.92 L406.00,247.35 L407.00,247.77 L408.00,248.19 L409.00,248.61 L410.00,249.02 L411.00,249.43 L412.00,249.83 L413.00,250.22 L414.00,250.62 L415.00,251.00 L416.00,251.39 L417.00,251.76 L418.00,252.14 L419.00,252.51 L420.00,252.87 L421.00,253.23 L422.00,253.58 L423.00,253.93 L424.00,254.28 L425.00,254.62 L426.00,254.96 L427.00,255.29 L428.00,255.62 L429.00,255.94 L430.00,256.26 L431.00,256.57 L432.00,256.88 L433.00,257.18 L434.00,257.48 L435.00,257.78 L436.00,258.07 L437.00,258.36 L438.00,258.64 L439.00,258.92 L440.00,259.19 L441.00,259.46 L442.00,259.73 L443.00,259.99 L444.00,260.25 L445.00,260.50 L446.00,260.75 L447.00,260.99 L448.00,261.23 L449.00,261.47 L450.00,261.70 L451.00,261.93 L452.00,262.16 L453.00,262.38 L454.00,262.60 L455.00,262.81 L456.00,263.03 L457.00,263.23 L458.00,263.44 L459.00,263.64 L460.00,263.83 L461.00,264.03 L462.00,264.22 L463.00,264.40 L464.00,264.59 L465.00,264.77 L466.00,264.94 L467.00,265.12 L468.00,265.29 L469.00,265.46 L470.00,265.62 L471.00,265.78 L472.00,265.94 L473.00,266.10 L474.00,266.25 L475.00,266.40 L476.00,266.55 L477.00,266.69 L478.00,266.84 L479.00,266.97 L480.00,267.11 L481.00,267.25 L482.00,267.38 L483.00,267.51 L484.00,267.63 L485.00,267.76 L486.00,267.88 L487.00,268.00 L488.00,268.12 L489.00,268.23 L490.00,268.35 L491.00,268.46 L492.00,268.57 L493.00,268.67 L494.00,268.78 L495.00,268.88 L496.00,268.98 L497.00,269.08 L498.00,269.17 L499.00,269.27 L500.00,269.36 L501.00,269.45 L502.00,269.54 L503.00,269.63 L504.00,269.72 L505.00,269.80 L506.00,269.88 L507.00,269.96 L508.00,270.04 L509.00,270.12 L510.00,270.20 L511.00,270.27 L512.00,270.34 L513.00,270.42 L514.00,270.49 L515.00,270.55 L516.00,270.62 L517.00,270.69 L518.00,270.75 L519.00,270.82 L520.00,270.88 L521.00,270.94 L522.00,271.00 L523.00,271.06 L524.00,271.11 L525.00,271.17 L526.00,271.23 L527.00,271.28 L528.00,271.33 L529.00,271.38 L530.00,271.43 L531.00,271.48 L532.00,271.53 L533.00,271.58 L534.00,271.63 L535.00,271.67 L536.00,271.72 L537.00,271.76 L538.00,271.80 L539.00,271.84 L540.00,271.89 L541.00,271.93 L542.00,271.97 L543.00,272.00 L544.00,272.04 L545.00,272.08 L546.00,272.12 L547.00,272.15 L548.00,272.19 L549.00,272.22 L550.00,272.25 L551.00,272.29 L552.00,272.32 L553.00,272.35 L554.00,272.38 L555.00,272.41 L556.00,272.44 L557.00,272.47 L558.00,272.50 L559.00,272.52 L560.00,272.55 L561.00,272.58 L562.00,272.60 L563.00,272.63 L564.00,272.65 L565.00,272.68 L566.00,272.70 L567.00,272.72 L568.00,272.75 L569.00,272.77 L570.00,272.79 L571.00,272.81 L572.00,272.83 L573.00,272.85 L574.00,272.87 L575.00,272.89 L576.00,272.91 L577.00,272.93 L578.00,272.95 L579.00,272.97 L580.00,272.99 L581.00,273.00 L582.00,273.02 L583.00,273.04 L584.00,273.05 L585.00,273.07 L586.00,273.08 L587.00,273.10 L588.00,273.11 L589.00,273.13 L590.00,273.14 L591.00,273.16 L592.00,273.17 L593.00,273.18 L594.00,273.20 L595.00,273.21 L596.00,273.22"/>
</g>
<g stroke="#1a1a1a" stroke-width="1.4" fill="none">
<path d="M47.1,23 V280.5 H611"/>
</g>
<g stroke="#1a1a1a" stroke-width="1.25" fill="none">
<path d="M47.3,38.2 H53"/>
<path d="M47.3,85.4 H53"/>
<path d="M47.3,132.4 H53"/>
<path d="M47.3,178.7 H53"/>
<path d="M47.3,225.6 H53"/>
<path d="M181.6,280.5 V275.4"/>
<path d="M244.6,280.5 V275.4"/>
<path d="M390.9,280.5 V275.4"/>
<path d="M453.9,280.5 V275.4"/>
<path d="M600.2,280.5 V275.4"/>
<path d="M98.3,280.5 V277.5"/>
<path d="M135.2,280.5 V277.5"/>
<path d="M161.3,280.5 V277.5"/>
<path d="M198.2,280.5 V277.5"/>
<path d="M212.2,280.5 V277.5"/>
<path d="M224.3,280.5 V277.5"/>
<path d="M235.0,280.5 V277.5"/>
<path d="M307.6,280.5 V277.5"/>
<path d="M344.5,280.5 V277.5"/>
<path d="M370.6,280.5 V277.5"/>
<path d="M407.5,280.5 V277.5"/>
<path d="M421.5,280.5 V277.5"/>
<path d="M433.6,280.5 V277.5"/>
<path d="M444.3,280.5 V277.5"/>
<path d="M516.9,280.5 V277.5"/>
<path d="M553.8,280.5 V277.5"/>
<path d="M579.9,280.5 V277.5"/>
</g>
</svg>
<div class="yl" style="top:19.7px;">1.0</div>
<div class="yl" style="top:66.8px;">0.8</div>
<div class="yl" style="top:113.9px;">0.6</div>
<div class="yl" style="top:160.1px;">0.4</div>
<div class="yl" style="top:207.0px;">0.2</div>
<div class="yl" style="top:262.6px;">0.1</div>
<div class="xl" style="left:141.3px;">0.5</div>
<div class="xl" style="left:204.6px;">1</div>
<div class="xl" style="left:351.0px;">5</div>
<div class="xl" style="left:414.6px;">10</div>
<div class="xl" style="left:560.4px;">50</div>
<div class="al" style="left:38px;top:-14.5px;">α</div>
<div class="lam" style="left:623.1px;top:260px;">λ</div>
<div class="unit" style="left:644.1px;top:259.3px;letter-spacing:-0.7px;"><span class="par">(</span>m<span class="par">)</span></div>
<div class="lg" style="color:#3f3f3f;top:19.7px;left:348.5px;"><span class="ell" style="left:-0.3px;top:0.7px;">ℓ</span> <span style="left:16.1px;">:</span> <span class="dg" style="left:27.5px;">0<span class="pt">.</span>075</span> <span class="mm" style="left:94.3px;">mm</span></div>
<div class="lg" style="color:#4a4a4a;top:47.0px;left:348.5px;"><span class="ell" style="left:-0.3px;top:0.7px;">ℓ</span> <span style="left:16.1px;">:</span> <span class="dg" style="left:27.5px;">0<span class="pt">.</span>150</span> <span class="mm" style="left:94.3px;">mm</span></div>
<div class="lg" style="color:#595959;top:74.4px;left:348.5px;"><span class="ell" style="left:-0.3px;top:0.7px;">ℓ</span> <span style="left:16.1px;">:</span> <span class="dg" style="left:27.5px;">0<span class="pt">.</span>225</span> <span class="mm" style="left:94.3px;">mm</span></div>
<div class="lg" style="color:#ED6C2B;top:101.7px;left:348.5px;"><span class="ell" style="left:-0.3px;top:0.7px;">ℓ</span> <span style="left:16.1px;">:</span> <span class="dg" style="left:27.5px;">0<span class="pt">.</span>300</span> <span class="mm" style="left:94.3px;">mm</span></div>
<div class="lg" style="color:#6e6e6e;top:19.7px;left:505.5px;"><span class="ell" style="left:-0.3px;top:0.7px;">ℓ</span> <span style="left:16.1px;">:</span> <span class="dg" style="left:27.5px;">0<span class="pt">.</span>375</span> <span class="mm" style="left:94.3px;">mm</span></div>
<div class="lg" style="color:#858585;top:47.0px;left:505.5px;"><span class="ell" style="left:-0.3px;top:0.7px;">ℓ</span> <span style="left:16.1px;">:</span> <span class="dg" style="left:27.5px;">0<span class="pt">.</span>450</span> <span class="mm" style="left:94.3px;">mm</span></div>
<div class="lg" style="color:#9a9a9a;top:74.4px;left:505.5px;"><span class="ell" style="left:-0.3px;top:0.7px;">ℓ</span> <span style="left:16.1px;">:</span> <span class="dg" style="left:27.5px;">0<span class="pt">.</span>525</span> <span class="mm" style="left:94.3px;">mm</span></div>
<div class="lg" style="color:#adadad;top:101.7px;left:505.5px;"><span class="ell" style="left:-0.3px;top:0.7px;">ℓ</span> <span style="left:16.1px;">:</span> <span class="dg" style="left:27.5px;">0<span class="pt">.</span>600</span> <span class="mm" style="left:94.3px;">mm</span></div>
<div class="lg" style="color:#bdbdbd;top:129.0px;left:505.5px;"><span class="ell" style="left:-0.3px;top:0.7px;">ℓ</span> <span style="left:16.1px;">:</span> <span class="dg" style="left:27.5px;">0<span class="pt">.</span>675</span> <span class="mm" style="left:94.3px;">mm</span></div>
<div class="lg" style="color:#cccccc;top:156.3px;left:505.5px;"><span class="ell" style="left:-0.3px;top:0.7px;">ℓ</span> <span style="left:16.1px;">:</span> <span class="dg" style="left:27.5px;">0<span class="pt">.</span>750</span> <span class="mm" style="left:94.3px;">mm</span></div>
<div class="lg" style="color:#d9d9d9;top:183.7px;left:505.5px;"><span class="ell" style="left:-0.3px;top:0.7px;">ℓ</span> <span style="left:16.1px;">:</span> <span class="dg" style="left:27.5px;">0<span class="pt">.</span>825</span> <span class="mm" style="left:94.3px;">mm</span></div>
</body></html>
